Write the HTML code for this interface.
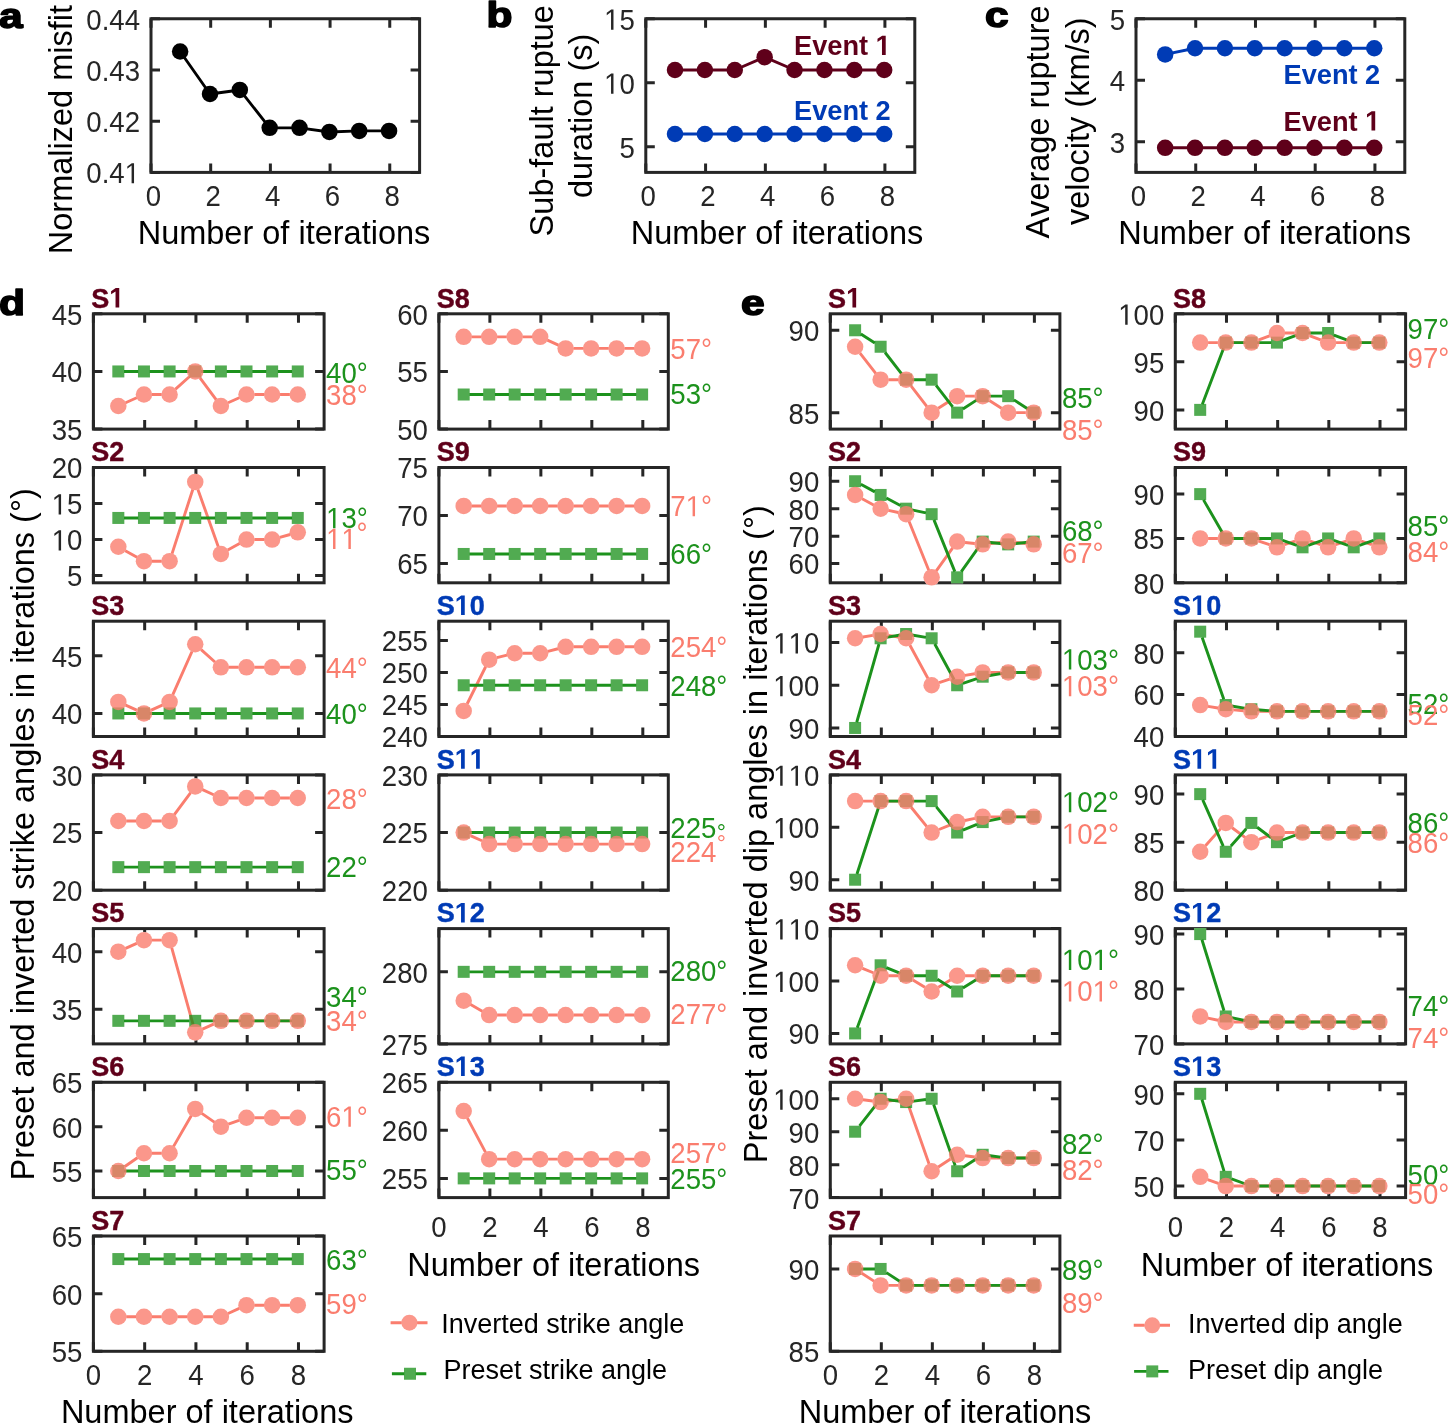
<!DOCTYPE html>
<html><head><meta charset="utf-8"><style>
html,body{margin:0;padding:0;background:#fff;overflow:hidden;}
svg text{font-family:"Liberation Sans",sans-serif;}
svg{display:block;will-change:transform;font-kerning:none;}
</style></head><body>
<svg width="1448" height="1423" viewBox="0 0 1448 1423" font-family="Liberation Sans, sans-serif">
<rect width="1448" height="1423" fill="#fff"/>
<text transform="translate(-1 27.6) scale(1.18 1)" font-size="36" font-weight="bold" fill="#000" stroke="#000" stroke-width="1.6" stroke-linejoin="round">a</text>
<text transform="translate(486.5 27.1) scale(1.18 1)" font-size="36" font-weight="bold" fill="#000" stroke="#000" stroke-width="1.6" stroke-linejoin="round">b</text>
<text transform="translate(985 27.3) scale(1.18 1)" font-size="36" font-weight="bold" fill="#000" stroke="#000" stroke-width="1.6" stroke-linejoin="round">c</text>
<text transform="translate(-1 314.6) scale(1.18 1)" font-size="36" font-weight="bold" fill="#000" stroke="#000" stroke-width="1.6" stroke-linejoin="round">d</text>
<text transform="translate(741 315.1) scale(1.18 1)" font-size="36" font-weight="bold" fill="#000" stroke="#000" stroke-width="1.6" stroke-linejoin="round">e</text>
<path d="M151 172.4V163.4M151 18.75V27.75M210.69 172.4V163.4M210.69 18.75V27.75M270.38 172.4V163.4M270.38 18.75V27.75M330.07 172.4V163.4M330.07 18.75V27.75M389.76 172.4V163.4M389.76 18.75V27.75M151 172.4H160M419.6 172.4H410.6M151 121.18H160M419.6 121.18H410.6M151 69.97H160M419.6 69.97H410.6M151 18.75H160M419.6 18.75H410.6" stroke="#262626" stroke-width="3.0" fill="none"/>
<rect x="151" y="18.75" width="268.6" height="153.65" fill="none" stroke="#262626" stroke-width="3.0"/>
<g transform="translate(140 183.3) scale(1 1.06)" fill="#262626"><text x="-53.72" y="0" font-size="27.6">0.4&#8199;</text><path transform="translate(-15.35 0) scale(0.01348 -0.01348)" d="M515 0L515 1237L197 1010L197 1180L530 1409L696 1409L696 0Z"/></g>
<g transform="translate(140 132.08) scale(1 1.06)" fill="#262626"><text x="-53.72" y="0" font-size="27.6">0.42</text></g>
<g transform="translate(140 80.87) scale(1 1.06)" fill="#262626"><text x="-53.72" y="0" font-size="27.6">0.43</text></g>
<g transform="translate(140 29.65) scale(1 1.06)" fill="#262626"><text x="-53.72" y="0" font-size="27.6">0.44</text></g>
<g transform="translate(153.4 206.2) scale(1 1.06)" fill="#262626"><text x="-7.67" y="0" font-size="27.6">0</text></g>
<g transform="translate(213.09 206.2) scale(1 1.06)" fill="#262626"><text x="-7.67" y="0" font-size="27.6">2</text></g>
<g transform="translate(272.78 206.2) scale(1 1.06)" fill="#262626"><text x="-7.67" y="0" font-size="27.6">4</text></g>
<g transform="translate(332.47 206.2) scale(1 1.06)" fill="#262626"><text x="-7.67" y="0" font-size="27.6">6</text></g>
<g transform="translate(392.16 206.2) scale(1 1.06)" fill="#262626"><text x="-7.67" y="0" font-size="27.6">8</text></g>
<polyline points="180.14,51.53 209.99,94.04 239.83,89.94 269.68,127.84 299.52,127.84 329.37,131.94 359.21,130.91 389.06,130.91" fill="none" stroke="#000" stroke-width="2.9" stroke-linejoin="round"/>
<circle cx="180.14" cy="51.53" r="8.25" fill="#000" fill-opacity="1"/>
<circle cx="209.99" cy="94.04" r="8.25" fill="#000" fill-opacity="1"/>
<circle cx="239.83" cy="89.94" r="8.25" fill="#000" fill-opacity="1"/>
<circle cx="269.68" cy="127.84" r="8.25" fill="#000" fill-opacity="1"/>
<circle cx="299.52" cy="127.84" r="8.25" fill="#000" fill-opacity="1"/>
<circle cx="329.37" cy="131.94" r="8.25" fill="#000" fill-opacity="1"/>
<circle cx="359.21" cy="130.91" r="8.25" fill="#000" fill-opacity="1"/>
<circle cx="389.06" cy="130.91" r="8.25" fill="#000" fill-opacity="1"/>
<text transform="translate(71.6 254.2) rotate(-90)" text-anchor="start" font-size="32.5" fill="#000">Normalized misfit</text>
<text x="284" y="244.2" text-anchor="middle" font-size="32.5" fill="#000">Number of iterations</text>
<path d="M645.8 172.4V163.4M645.8 18.75V27.75M705.58 172.4V163.4M705.58 18.75V27.75M765.36 172.4V163.4M765.36 18.75V27.75M825.13 172.4V163.4M825.13 18.75V27.75M884.91 172.4V163.4M884.91 18.75V27.75M645.8 146.79H654.8M914.8 146.79H905.8M645.8 82.77H654.8M914.8 82.77H905.8M645.8 18.75H654.8M914.8 18.75H905.8" stroke="#262626" stroke-width="3.0" fill="none"/>
<rect x="645.8" y="18.75" width="269" height="153.65" fill="none" stroke="#262626" stroke-width="3.0"/>
<g transform="translate(634.8 157.69) scale(1 1.06)" fill="#262626"><text x="-15.35" y="0" font-size="27.6">5</text></g>
<g transform="translate(634.8 93.67) scale(1 1.06)" fill="#262626"><text x="-30.7" y="0" font-size="27.6">&#8199;0</text><path transform="translate(-30.7 0) scale(0.01348 -0.01348)" d="M515 0L515 1237L197 1010L197 1180L530 1409L696 1409L696 0Z"/></g>
<g transform="translate(634.8 29.65) scale(1 1.06)" fill="#262626"><text x="-30.7" y="0" font-size="27.6">&#8199;5</text><path transform="translate(-30.7 0) scale(0.01348 -0.01348)" d="M515 0L515 1237L197 1010L197 1180L530 1409L696 1409L696 0Z"/></g>
<g transform="translate(648.2 206.2) scale(1 1.06)" fill="#262626"><text x="-7.67" y="0" font-size="27.6">0</text></g>
<g transform="translate(707.98 206.2) scale(1 1.06)" fill="#262626"><text x="-7.67" y="0" font-size="27.6">2</text></g>
<g transform="translate(767.76 206.2) scale(1 1.06)" fill="#262626"><text x="-7.67" y="0" font-size="27.6">4</text></g>
<g transform="translate(827.53 206.2) scale(1 1.06)" fill="#262626"><text x="-7.67" y="0" font-size="27.6">6</text></g>
<g transform="translate(887.31 206.2) scale(1 1.06)" fill="#262626"><text x="-7.67" y="0" font-size="27.6">8</text></g>
<polyline points="674.99,69.97 704.88,69.97 734.77,69.97 764.66,57.16 794.54,69.97 824.43,69.97 854.32,69.97 884.21,69.97" fill="none" stroke="#5F001A" stroke-width="2.9" stroke-linejoin="round"/>
<circle cx="674.99" cy="69.97" r="8.25" fill="#5F001A" fill-opacity="1"/>
<circle cx="704.88" cy="69.97" r="8.25" fill="#5F001A" fill-opacity="1"/>
<circle cx="734.77" cy="69.97" r="8.25" fill="#5F001A" fill-opacity="1"/>
<circle cx="764.66" cy="57.16" r="8.25" fill="#5F001A" fill-opacity="1"/>
<circle cx="794.54" cy="69.97" r="8.25" fill="#5F001A" fill-opacity="1"/>
<circle cx="824.43" cy="69.97" r="8.25" fill="#5F001A" fill-opacity="1"/>
<circle cx="854.32" cy="69.97" r="8.25" fill="#5F001A" fill-opacity="1"/>
<circle cx="884.21" cy="69.97" r="8.25" fill="#5F001A" fill-opacity="1"/>
<polyline points="674.99,133.99 704.88,133.99 734.77,133.99 764.66,133.99 794.54,133.99 824.43,133.99 854.32,133.99 884.21,133.99" fill="none" stroke="#003BB5" stroke-width="2.9" stroke-linejoin="round"/>
<circle cx="674.99" cy="133.99" r="8.25" fill="#003BB5" fill-opacity="1"/>
<circle cx="704.88" cy="133.99" r="8.25" fill="#003BB5" fill-opacity="1"/>
<circle cx="734.77" cy="133.99" r="8.25" fill="#003BB5" fill-opacity="1"/>
<circle cx="764.66" cy="133.99" r="8.25" fill="#003BB5" fill-opacity="1"/>
<circle cx="794.54" cy="133.99" r="8.25" fill="#003BB5" fill-opacity="1"/>
<circle cx="824.43" cy="133.99" r="8.25" fill="#003BB5" fill-opacity="1"/>
<circle cx="854.32" cy="133.99" r="8.25" fill="#003BB5" fill-opacity="1"/>
<circle cx="884.21" cy="133.99" r="8.25" fill="#003BB5" fill-opacity="1"/>
<g transform="translate(794 55) scale(1 1.03)" fill="#5F001A"><text x="0" y="0" font-size="27.2" font-weight="bold">Event &#8199;</text><path transform="translate(81.63 0) scale(0.01328 -0.01328)" d="M478 0L478 1170L140 959L140 1180L493 1409L759 1409L759 0Z"/></g>
<g transform="translate(794 119.8) scale(1 1.03)" fill="#003BB5"><text x="0" y="0" font-size="27.2" font-weight="bold">Event 2</text></g>
<text transform="translate(552.9 120.75) rotate(-90)" text-anchor="middle" font-size="32.5" fill="#000">Sub-fault ruptue</text>
<text transform="translate(591.5 115.9) rotate(-90)" text-anchor="middle" font-size="32.5" fill="#000">duration (s)</text>
<text x="777" y="244.2" text-anchor="middle" font-size="32.5" fill="#000">Number of iterations</text>
<path d="M1136 172.4V163.4M1136 18.75V27.75M1195.73 172.4V163.4M1195.73 18.75V27.75M1255.47 172.4V163.4M1255.47 18.75V27.75M1315.2 172.4V163.4M1315.2 18.75V27.75M1374.93 172.4V163.4M1374.93 18.75V27.75M1136 141.67H1145M1404.8 141.67H1395.8M1136 80.21H1145M1404.8 80.21H1395.8M1136 18.75H1145M1404.8 18.75H1395.8" stroke="#262626" stroke-width="3.0" fill="none"/>
<rect x="1136" y="18.75" width="268.8" height="153.65" fill="none" stroke="#262626" stroke-width="3.0"/>
<g transform="translate(1125 152.57) scale(1 1.06)" fill="#262626"><text x="-15.35" y="0" font-size="27.6">3</text></g>
<g transform="translate(1125 91.11) scale(1 1.06)" fill="#262626"><text x="-15.35" y="0" font-size="27.6">4</text></g>
<g transform="translate(1125 29.65) scale(1 1.06)" fill="#262626"><text x="-15.35" y="0" font-size="27.6">5</text></g>
<g transform="translate(1138.4 206.2) scale(1 1.06)" fill="#262626"><text x="-7.67" y="0" font-size="27.6">0</text></g>
<g transform="translate(1198.13 206.2) scale(1 1.06)" fill="#262626"><text x="-7.67" y="0" font-size="27.6">2</text></g>
<g transform="translate(1257.87 206.2) scale(1 1.06)" fill="#262626"><text x="-7.67" y="0" font-size="27.6">4</text></g>
<g transform="translate(1317.6 206.2) scale(1 1.06)" fill="#262626"><text x="-7.67" y="0" font-size="27.6">6</text></g>
<g transform="translate(1377.33 206.2) scale(1 1.06)" fill="#262626"><text x="-7.67" y="0" font-size="27.6">8</text></g>
<polyline points="1165.17,147.82 1195.03,147.82 1224.9,147.82 1254.77,147.82 1284.63,147.82 1314.5,147.82 1344.37,147.82 1374.23,147.82" fill="none" stroke="#5F001A" stroke-width="2.9" stroke-linejoin="round"/>
<circle cx="1165.17" cy="147.82" r="8.25" fill="#5F001A" fill-opacity="1"/>
<circle cx="1195.03" cy="147.82" r="8.25" fill="#5F001A" fill-opacity="1"/>
<circle cx="1224.9" cy="147.82" r="8.25" fill="#5F001A" fill-opacity="1"/>
<circle cx="1254.77" cy="147.82" r="8.25" fill="#5F001A" fill-opacity="1"/>
<circle cx="1284.63" cy="147.82" r="8.25" fill="#5F001A" fill-opacity="1"/>
<circle cx="1314.5" cy="147.82" r="8.25" fill="#5F001A" fill-opacity="1"/>
<circle cx="1344.37" cy="147.82" r="8.25" fill="#5F001A" fill-opacity="1"/>
<circle cx="1374.23" cy="147.82" r="8.25" fill="#5F001A" fill-opacity="1"/>
<polyline points="1165.17,54.4 1195.03,48.25 1224.9,48.25 1254.77,48.25 1284.63,48.25 1314.5,48.25 1344.37,48.25 1374.23,48.25" fill="none" stroke="#003BB5" stroke-width="2.9" stroke-linejoin="round"/>
<circle cx="1165.17" cy="54.4" r="8.25" fill="#003BB5" fill-opacity="1"/>
<circle cx="1195.03" cy="48.25" r="8.25" fill="#003BB5" fill-opacity="1"/>
<circle cx="1224.9" cy="48.25" r="8.25" fill="#003BB5" fill-opacity="1"/>
<circle cx="1254.77" cy="48.25" r="8.25" fill="#003BB5" fill-opacity="1"/>
<circle cx="1284.63" cy="48.25" r="8.25" fill="#003BB5" fill-opacity="1"/>
<circle cx="1314.5" cy="48.25" r="8.25" fill="#003BB5" fill-opacity="1"/>
<circle cx="1344.37" cy="48.25" r="8.25" fill="#003BB5" fill-opacity="1"/>
<circle cx="1374.23" cy="48.25" r="8.25" fill="#003BB5" fill-opacity="1"/>
<g transform="translate(1283.5 84.3) scale(1 1.03)" fill="#003BB5"><text x="0" y="0" font-size="27.2" font-weight="bold">Event 2</text></g>
<g transform="translate(1283.5 130.5) scale(1 1.03)" fill="#5F001A"><text x="0" y="0" font-size="27.2" font-weight="bold">Event &#8199;</text><path transform="translate(81.63 0) scale(0.01328 -0.01328)" d="M478 0L478 1170L140 959L140 1180L493 1409L759 1409L759 0Z"/></g>
<text transform="translate(1049.4 122) rotate(-90)" text-anchor="middle" font-size="32.5" fill="#000">Average rupture</text>
<text transform="translate(1088.9 121.2) rotate(-90)" text-anchor="middle" font-size="32.5" fill="#000">velocity (km/s)</text>
<text x="1264.6" y="244.2" text-anchor="middle" font-size="32.5" fill="#000">Number of iterations</text>
<path d="M93.4 429.1V420.1M93.4 313.8V322.8M144.67 429.1V420.1M144.67 313.8V322.8M195.93 429.1V420.1M195.93 313.8V322.8M247.2 429.1V420.1M247.2 313.8V322.8M298.47 429.1V420.1M298.47 313.8V322.8M93.4 429.1H102.4M324.1 429.1H315.1M93.4 371.45H102.4M324.1 371.45H315.1M93.4 313.8H102.4M324.1 313.8H315.1" stroke="#262626" stroke-width="3.0" fill="none"/>
<rect x="93.4" y="313.8" width="230.7" height="115.3" fill="none" stroke="#262626" stroke-width="3.0"/>
<g transform="translate(82.4 440) scale(1 1.06)" fill="#262626"><text x="-30.7" y="0" font-size="27.6">35</text></g>
<g transform="translate(82.4 382.35) scale(1 1.06)" fill="#262626"><text x="-30.7" y="0" font-size="27.6">40</text></g>
<g transform="translate(82.4 324.7) scale(1 1.06)" fill="#262626"><text x="-30.7" y="0" font-size="27.6">45</text></g>
<rect x="112.33" y="365.45" width="12" height="12" fill="#fff"/>
<rect x="137.97" y="365.45" width="12" height="12" fill="#fff"/>
<rect x="163.6" y="365.45" width="12" height="12" fill="#fff"/>
<rect x="189.23" y="365.45" width="12" height="12" fill="#fff"/>
<rect x="214.87" y="365.45" width="12" height="12" fill="#fff"/>
<rect x="240.5" y="365.45" width="12" height="12" fill="#fff"/>
<rect x="266.13" y="365.45" width="12" height="12" fill="#fff"/>
<rect x="291.77" y="365.45" width="12" height="12" fill="#fff"/>
<circle cx="118.33" cy="406.04" r="8.25" fill="#fff"/>
<circle cx="143.97" cy="394.51" r="8.25" fill="#fff"/>
<circle cx="169.6" cy="394.51" r="8.25" fill="#fff"/>
<circle cx="195.23" cy="371.45" r="8.25" fill="#fff"/>
<circle cx="220.87" cy="406.04" r="8.25" fill="#fff"/>
<circle cx="246.5" cy="394.51" r="8.25" fill="#fff"/>
<circle cx="272.13" cy="394.51" r="8.25" fill="#fff"/>
<circle cx="297.77" cy="394.51" r="8.25" fill="#fff"/>
<path d="M125.58 402.78L136.72 397.77M151.92 394.51L161.65 394.51M175.51 389.19L189.32 376.77M199.97 377.84L216.13 399.65M228.12 402.78L239.25 397.77M254.45 394.51L264.18 394.51M280.08 394.51L289.82 394.51" fill="none" stroke="#FA7D6E" stroke-width="2.9"/>
<path d="M124.03 371.45L138.27 371.45M149.67 371.45L163.9 371.45M175.3 371.45L189.53 371.45M200.93 371.45L215.17 371.45M226.57 371.45L240.8 371.45M252.2 371.45L266.43 371.45M277.83 371.45L292.07 371.45" fill="none" stroke="#1C921C" stroke-width="2.9"/>
<rect x="112.33" y="365.45" width="12" height="12" fill="#178F17" fill-opacity="0.75"/>
<rect x="137.97" y="365.45" width="12" height="12" fill="#178F17" fill-opacity="0.75"/>
<rect x="163.6" y="365.45" width="12" height="12" fill="#178F17" fill-opacity="0.75"/>
<rect x="189.23" y="365.45" width="12" height="12" fill="#178F17" fill-opacity="0.75"/>
<rect x="214.87" y="365.45" width="12" height="12" fill="#178F17" fill-opacity="0.75"/>
<rect x="240.5" y="365.45" width="12" height="12" fill="#178F17" fill-opacity="0.75"/>
<rect x="266.13" y="365.45" width="12" height="12" fill="#178F17" fill-opacity="0.75"/>
<rect x="291.77" y="365.45" width="12" height="12" fill="#178F17" fill-opacity="0.75"/>
<circle cx="118.33" cy="406.04" r="8.25" fill="#FA7D6E" fill-opacity="0.8"/>
<circle cx="143.97" cy="394.51" r="8.25" fill="#FA7D6E" fill-opacity="0.8"/>
<circle cx="169.6" cy="394.51" r="8.25" fill="#FA7D6E" fill-opacity="0.8"/>
<circle cx="195.23" cy="371.45" r="8.25" fill="#FA7D6E" fill-opacity="0.8"/>
<circle cx="220.87" cy="406.04" r="8.25" fill="#FA7D6E" fill-opacity="0.8"/>
<circle cx="246.5" cy="394.51" r="8.25" fill="#FA7D6E" fill-opacity="0.8"/>
<circle cx="272.13" cy="394.51" r="8.25" fill="#FA7D6E" fill-opacity="0.8"/>
<circle cx="297.77" cy="394.51" r="8.25" fill="#FA7D6E" fill-opacity="0.8"/>
<g transform="translate(91.2 307.6) scale(1.02 1.07)" fill="#5F001A" stroke="#5F001A" stroke-width="0.4" stroke-linejoin="round"><text x="0" y="0" font-size="26.5" font-weight="bold">S&#8199;</text><path transform="translate(17.68 0) scale(0.01294 -0.01294)" d="M478 0L478 1170L140 959L140 1180L493 1409L759 1409L759 0Z"/></g>
<g transform="translate(326.1 382.5) scale(1 1.06)" fill="#1C921C"><text x="0" y="0" font-size="27.6">40&#176;</text></g>
<g transform="translate(326.1 404.6) scale(1 1.06)" fill="#FA7D6E"><text x="0" y="0" font-size="27.6">38&#176;</text></g>
<path d="M93.4 582.8V573.8M93.4 467.5V476.5M144.67 582.8V573.8M144.67 467.5V476.5M195.93 582.8V573.8M195.93 467.5V476.5M247.2 582.8V573.8M247.2 467.5V476.5M298.47 582.8V573.8M298.47 467.5V476.5M93.4 575.59H102.4M324.1 575.59H315.1M93.4 539.56H102.4M324.1 539.56H315.1M93.4 503.53H102.4M324.1 503.53H315.1M93.4 467.5H102.4M324.1 467.5H315.1" stroke="#262626" stroke-width="3.0" fill="none"/>
<rect x="93.4" y="467.5" width="230.7" height="115.3" fill="none" stroke="#262626" stroke-width="3.0"/>
<g transform="translate(82.4 586.49) scale(1 1.06)" fill="#262626"><text x="-15.35" y="0" font-size="27.6">5</text></g>
<g transform="translate(82.4 550.46) scale(1 1.06)" fill="#262626"><text x="-30.7" y="0" font-size="27.6">&#8199;0</text><path transform="translate(-30.7 0) scale(0.01348 -0.01348)" d="M515 0L515 1237L197 1010L197 1180L530 1409L696 1409L696 0Z"/></g>
<g transform="translate(82.4 514.43) scale(1 1.06)" fill="#262626"><text x="-30.7" y="0" font-size="27.6">&#8199;5</text><path transform="translate(-30.7 0) scale(0.01348 -0.01348)" d="M515 0L515 1237L197 1010L197 1180L530 1409L696 1409L696 0Z"/></g>
<g transform="translate(82.4 478.4) scale(1 1.06)" fill="#262626"><text x="-30.7" y="0" font-size="27.6">20</text></g>
<rect x="112.33" y="511.94" width="12" height="12" fill="#fff"/>
<rect x="137.97" y="511.94" width="12" height="12" fill="#fff"/>
<rect x="163.6" y="511.94" width="12" height="12" fill="#fff"/>
<rect x="189.23" y="511.94" width="12" height="12" fill="#fff"/>
<rect x="214.87" y="511.94" width="12" height="12" fill="#fff"/>
<rect x="240.5" y="511.94" width="12" height="12" fill="#fff"/>
<rect x="266.13" y="511.94" width="12" height="12" fill="#fff"/>
<rect x="291.77" y="511.94" width="12" height="12" fill="#fff"/>
<circle cx="118.33" cy="546.77" r="8.25" fill="#fff"/>
<circle cx="143.97" cy="561.18" r="8.25" fill="#fff"/>
<circle cx="169.6" cy="561.18" r="8.25" fill="#fff"/>
<circle cx="195.23" cy="481.91" r="8.25" fill="#fff"/>
<circle cx="220.87" cy="553.97" r="8.25" fill="#fff"/>
<circle cx="246.5" cy="539.56" r="8.25" fill="#fff"/>
<circle cx="272.13" cy="539.56" r="8.25" fill="#fff"/>
<circle cx="297.77" cy="532.36" r="8.25" fill="#fff"/>
<path d="M125.26 550.67L137.04 557.28M151.92 561.18L161.65 561.18M172.05 553.62L192.79 489.48M197.9 489.4L218.2 546.48M227.8 550.08L239.57 543.46M254.45 539.56L264.18 539.56M279.79 537.41L290.11 534.51" fill="none" stroke="#FA7D6E" stroke-width="2.9"/>
<path d="M124.03 517.94L138.27 517.94M149.67 517.94L163.9 517.94M175.3 517.94L189.53 517.94M200.93 517.94L215.17 517.94M226.57 517.94L240.8 517.94M252.2 517.94L266.43 517.94M277.83 517.94L292.07 517.94" fill="none" stroke="#1C921C" stroke-width="2.9"/>
<rect x="112.33" y="511.94" width="12" height="12" fill="#178F17" fill-opacity="0.75"/>
<rect x="137.97" y="511.94" width="12" height="12" fill="#178F17" fill-opacity="0.75"/>
<rect x="163.6" y="511.94" width="12" height="12" fill="#178F17" fill-opacity="0.75"/>
<rect x="189.23" y="511.94" width="12" height="12" fill="#178F17" fill-opacity="0.75"/>
<rect x="214.87" y="511.94" width="12" height="12" fill="#178F17" fill-opacity="0.75"/>
<rect x="240.5" y="511.94" width="12" height="12" fill="#178F17" fill-opacity="0.75"/>
<rect x="266.13" y="511.94" width="12" height="12" fill="#178F17" fill-opacity="0.75"/>
<rect x="291.77" y="511.94" width="12" height="12" fill="#178F17" fill-opacity="0.75"/>
<circle cx="118.33" cy="546.77" r="8.25" fill="#FA7D6E" fill-opacity="0.8"/>
<circle cx="143.97" cy="561.18" r="8.25" fill="#FA7D6E" fill-opacity="0.8"/>
<circle cx="169.6" cy="561.18" r="8.25" fill="#FA7D6E" fill-opacity="0.8"/>
<circle cx="195.23" cy="481.91" r="8.25" fill="#FA7D6E" fill-opacity="0.8"/>
<circle cx="220.87" cy="553.97" r="8.25" fill="#FA7D6E" fill-opacity="0.8"/>
<circle cx="246.5" cy="539.56" r="8.25" fill="#FA7D6E" fill-opacity="0.8"/>
<circle cx="272.13" cy="539.56" r="8.25" fill="#FA7D6E" fill-opacity="0.8"/>
<circle cx="297.77" cy="532.36" r="8.25" fill="#FA7D6E" fill-opacity="0.8"/>
<g transform="translate(91.2 461.3) scale(1.02 1.07)" fill="#5F001A" stroke="#5F001A" stroke-width="0.4" stroke-linejoin="round"><text x="0" y="0" font-size="26.5" font-weight="bold">S2</text></g>
<g transform="translate(326.1 528.2) scale(1 1.06)" fill="#1C921C"><text x="0" y="0" font-size="27.6">&#8199;3&#176;</text><path transform="translate(0 0) scale(0.01348 -0.01348)" d="M515 0L515 1237L197 1010L197 1180L530 1409L696 1409L696 0Z"/></g>
<g transform="translate(326.1 549) scale(1 1.06)" fill="#FA7D6E"><text x="0" y="0" font-size="27.6">&#8199;&#8199;</text><path transform="translate(0 0) scale(0.01348 -0.01348)" d="M515 0L515 1237L197 1010L197 1180L530 1409L696 1409L696 0Z"/><path transform="translate(15.35 0) scale(0.01348 -0.01348)" d="M515 0L515 1237L197 1010L197 1180L530 1409L696 1409L696 0Z"/></g>
<path d="M93.4 736.5V727.5M93.4 621.2V630.2M144.67 736.5V727.5M144.67 621.2V630.2M195.93 736.5V727.5M195.93 621.2V630.2M247.2 736.5V727.5M247.2 621.2V630.2M298.47 736.5V727.5M298.47 621.2V630.2M93.4 713.44H102.4M324.1 713.44H315.1M93.4 655.79H102.4M324.1 655.79H315.1" stroke="#262626" stroke-width="3.0" fill="none"/>
<rect x="93.4" y="621.2" width="230.7" height="115.3" fill="none" stroke="#262626" stroke-width="3.0"/>
<g transform="translate(82.4 724.34) scale(1 1.06)" fill="#262626"><text x="-30.7" y="0" font-size="27.6">40</text></g>
<g transform="translate(82.4 666.69) scale(1 1.06)" fill="#262626"><text x="-30.7" y="0" font-size="27.6">45</text></g>
<rect x="112.33" y="707.44" width="12" height="12" fill="#fff"/>
<rect x="137.97" y="707.44" width="12" height="12" fill="#fff"/>
<rect x="163.6" y="707.44" width="12" height="12" fill="#fff"/>
<rect x="189.23" y="707.44" width="12" height="12" fill="#fff"/>
<rect x="214.87" y="707.44" width="12" height="12" fill="#fff"/>
<rect x="240.5" y="707.44" width="12" height="12" fill="#fff"/>
<rect x="266.13" y="707.44" width="12" height="12" fill="#fff"/>
<rect x="291.77" y="707.44" width="12" height="12" fill="#fff"/>
<circle cx="118.33" cy="701.91" r="8.25" fill="#fff"/>
<circle cx="143.97" cy="713.44" r="8.25" fill="#fff"/>
<circle cx="169.6" cy="701.91" r="8.25" fill="#fff"/>
<circle cx="195.23" cy="644.26" r="8.25" fill="#fff"/>
<circle cx="220.87" cy="667.32" r="8.25" fill="#fff"/>
<circle cx="246.5" cy="667.32" r="8.25" fill="#fff"/>
<circle cx="272.13" cy="667.32" r="8.25" fill="#fff"/>
<circle cx="297.77" cy="667.32" r="8.25" fill="#fff"/>
<path d="M125.58 705.17L136.72 710.18M151.22 710.18L162.35 705.17M172.83 694.65L192 651.52M201.14 649.58L214.96 662M228.82 667.32L238.55 667.32M254.45 667.32L264.18 667.32M280.08 667.32L289.82 667.32" fill="none" stroke="#FA7D6E" stroke-width="2.9"/>
<path d="M124.03 713.44L138.27 713.44M149.67 713.44L163.9 713.44M175.3 713.44L189.53 713.44M200.93 713.44L215.17 713.44M226.57 713.44L240.8 713.44M252.2 713.44L266.43 713.44M277.83 713.44L292.07 713.44" fill="none" stroke="#1C921C" stroke-width="2.9"/>
<rect x="112.33" y="707.44" width="12" height="12" fill="#178F17" fill-opacity="0.75"/>
<rect x="137.97" y="707.44" width="12" height="12" fill="#178F17" fill-opacity="0.75"/>
<rect x="163.6" y="707.44" width="12" height="12" fill="#178F17" fill-opacity="0.75"/>
<rect x="189.23" y="707.44" width="12" height="12" fill="#178F17" fill-opacity="0.75"/>
<rect x="214.87" y="707.44" width="12" height="12" fill="#178F17" fill-opacity="0.75"/>
<rect x="240.5" y="707.44" width="12" height="12" fill="#178F17" fill-opacity="0.75"/>
<rect x="266.13" y="707.44" width="12" height="12" fill="#178F17" fill-opacity="0.75"/>
<rect x="291.77" y="707.44" width="12" height="12" fill="#178F17" fill-opacity="0.75"/>
<circle cx="118.33" cy="701.91" r="8.25" fill="#FA7D6E" fill-opacity="0.8"/>
<circle cx="143.97" cy="713.44" r="8.25" fill="#FA7D6E" fill-opacity="0.8"/>
<circle cx="169.6" cy="701.91" r="8.25" fill="#FA7D6E" fill-opacity="0.8"/>
<circle cx="195.23" cy="644.26" r="8.25" fill="#FA7D6E" fill-opacity="0.8"/>
<circle cx="220.87" cy="667.32" r="8.25" fill="#FA7D6E" fill-opacity="0.8"/>
<circle cx="246.5" cy="667.32" r="8.25" fill="#FA7D6E" fill-opacity="0.8"/>
<circle cx="272.13" cy="667.32" r="8.25" fill="#FA7D6E" fill-opacity="0.8"/>
<circle cx="297.77" cy="667.32" r="8.25" fill="#FA7D6E" fill-opacity="0.8"/>
<g transform="translate(91.2 615) scale(1.02 1.07)" fill="#5F001A" stroke="#5F001A" stroke-width="0.4" stroke-linejoin="round"><text x="0" y="0" font-size="26.5" font-weight="bold">S3</text></g>
<g transform="translate(326.1 724.4) scale(1 1.06)" fill="#1C921C"><text x="0" y="0" font-size="27.6">40&#176;</text></g>
<g transform="translate(326.1 678.1) scale(1 1.06)" fill="#FA7D6E"><text x="0" y="0" font-size="27.6">44&#176;</text></g>
<path d="M93.4 890.2V881.2M93.4 774.9V783.9M144.67 890.2V881.2M144.67 774.9V783.9M195.93 890.2V881.2M195.93 774.9V783.9M247.2 890.2V881.2M247.2 774.9V783.9M298.47 890.2V881.2M298.47 774.9V783.9M93.4 890.2H102.4M324.1 890.2H315.1M93.4 832.55H102.4M324.1 832.55H315.1M93.4 774.9H102.4M324.1 774.9H315.1" stroke="#262626" stroke-width="3.0" fill="none"/>
<rect x="93.4" y="774.9" width="230.7" height="115.3" fill="none" stroke="#262626" stroke-width="3.0"/>
<g transform="translate(82.4 901.1) scale(1 1.06)" fill="#262626"><text x="-30.7" y="0" font-size="27.6">20</text></g>
<g transform="translate(82.4 843.45) scale(1 1.06)" fill="#262626"><text x="-30.7" y="0" font-size="27.6">25</text></g>
<g transform="translate(82.4 785.8) scale(1 1.06)" fill="#262626"><text x="-30.7" y="0" font-size="27.6">30</text></g>
<rect x="112.33" y="861.14" width="12" height="12" fill="#fff"/>
<rect x="137.97" y="861.14" width="12" height="12" fill="#fff"/>
<rect x="163.6" y="861.14" width="12" height="12" fill="#fff"/>
<rect x="189.23" y="861.14" width="12" height="12" fill="#fff"/>
<rect x="214.87" y="861.14" width="12" height="12" fill="#fff"/>
<rect x="240.5" y="861.14" width="12" height="12" fill="#fff"/>
<rect x="266.13" y="861.14" width="12" height="12" fill="#fff"/>
<rect x="291.77" y="861.14" width="12" height="12" fill="#fff"/>
<circle cx="118.33" cy="821.02" r="8.25" fill="#fff"/>
<circle cx="143.97" cy="821.02" r="8.25" fill="#fff"/>
<circle cx="169.6" cy="821.02" r="8.25" fill="#fff"/>
<circle cx="195.23" cy="786.43" r="8.25" fill="#fff"/>
<circle cx="220.87" cy="797.96" r="8.25" fill="#fff"/>
<circle cx="246.5" cy="797.96" r="8.25" fill="#fff"/>
<circle cx="272.13" cy="797.96" r="8.25" fill="#fff"/>
<circle cx="297.77" cy="797.96" r="8.25" fill="#fff"/>
<path d="M126.28 821.02L136.02 821.02M151.92 821.02L161.65 821.02M174.33 814.63L190.5 792.82M202.48 789.69L213.62 794.7M228.82 797.96L238.55 797.96M254.45 797.96L264.18 797.96M280.08 797.96L289.82 797.96" fill="none" stroke="#FA7D6E" stroke-width="2.9"/>
<path d="M124.03 867.14L138.27 867.14M149.67 867.14L163.9 867.14M175.3 867.14L189.53 867.14M200.93 867.14L215.17 867.14M226.57 867.14L240.8 867.14M252.2 867.14L266.43 867.14M277.83 867.14L292.07 867.14" fill="none" stroke="#1C921C" stroke-width="2.9"/>
<rect x="112.33" y="861.14" width="12" height="12" fill="#178F17" fill-opacity="0.75"/>
<rect x="137.97" y="861.14" width="12" height="12" fill="#178F17" fill-opacity="0.75"/>
<rect x="163.6" y="861.14" width="12" height="12" fill="#178F17" fill-opacity="0.75"/>
<rect x="189.23" y="861.14" width="12" height="12" fill="#178F17" fill-opacity="0.75"/>
<rect x="214.87" y="861.14" width="12" height="12" fill="#178F17" fill-opacity="0.75"/>
<rect x="240.5" y="861.14" width="12" height="12" fill="#178F17" fill-opacity="0.75"/>
<rect x="266.13" y="861.14" width="12" height="12" fill="#178F17" fill-opacity="0.75"/>
<rect x="291.77" y="861.14" width="12" height="12" fill="#178F17" fill-opacity="0.75"/>
<circle cx="118.33" cy="821.02" r="8.25" fill="#FA7D6E" fill-opacity="0.8"/>
<circle cx="143.97" cy="821.02" r="8.25" fill="#FA7D6E" fill-opacity="0.8"/>
<circle cx="169.6" cy="821.02" r="8.25" fill="#FA7D6E" fill-opacity="0.8"/>
<circle cx="195.23" cy="786.43" r="8.25" fill="#FA7D6E" fill-opacity="0.8"/>
<circle cx="220.87" cy="797.96" r="8.25" fill="#FA7D6E" fill-opacity="0.8"/>
<circle cx="246.5" cy="797.96" r="8.25" fill="#FA7D6E" fill-opacity="0.8"/>
<circle cx="272.13" cy="797.96" r="8.25" fill="#FA7D6E" fill-opacity="0.8"/>
<circle cx="297.77" cy="797.96" r="8.25" fill="#FA7D6E" fill-opacity="0.8"/>
<g transform="translate(91.2 768.7) scale(1.02 1.07)" fill="#5F001A" stroke="#5F001A" stroke-width="0.4" stroke-linejoin="round"><text x="0" y="0" font-size="26.5" font-weight="bold">S4</text></g>
<g transform="translate(326.1 877.3) scale(1 1.06)" fill="#1C921C"><text x="0" y="0" font-size="27.6">22&#176;</text></g>
<g transform="translate(326.1 808.8) scale(1 1.06)" fill="#FA7D6E"><text x="0" y="0" font-size="27.6">28&#176;</text></g>
<path d="M93.4 1043.9V1034.9M93.4 928.6V937.6M144.67 1043.9V1034.9M144.67 928.6V937.6M195.93 1043.9V1034.9M195.93 928.6V937.6M247.2 1043.9V1034.9M247.2 928.6V937.6M298.47 1043.9V1034.9M298.47 928.6V937.6M93.4 1009.31H102.4M324.1 1009.31H315.1M93.4 951.66H102.4M324.1 951.66H315.1" stroke="#262626" stroke-width="3.0" fill="none"/>
<rect x="93.4" y="928.6" width="230.7" height="115.3" fill="none" stroke="#262626" stroke-width="3.0"/>
<g transform="translate(82.4 1020.21) scale(1 1.06)" fill="#262626"><text x="-30.7" y="0" font-size="27.6">35</text></g>
<g transform="translate(82.4 962.56) scale(1 1.06)" fill="#262626"><text x="-30.7" y="0" font-size="27.6">40</text></g>
<rect x="112.33" y="1014.84" width="12" height="12" fill="#fff"/>
<rect x="137.97" y="1014.84" width="12" height="12" fill="#fff"/>
<rect x="163.6" y="1014.84" width="12" height="12" fill="#fff"/>
<rect x="189.23" y="1014.84" width="12" height="12" fill="#fff"/>
<rect x="214.87" y="1014.84" width="12" height="12" fill="#fff"/>
<rect x="240.5" y="1014.84" width="12" height="12" fill="#fff"/>
<rect x="266.13" y="1014.84" width="12" height="12" fill="#fff"/>
<rect x="291.77" y="1014.84" width="12" height="12" fill="#fff"/>
<circle cx="118.33" cy="951.66" r="8.25" fill="#fff"/>
<circle cx="143.97" cy="940.13" r="8.25" fill="#fff"/>
<circle cx="169.6" cy="940.13" r="8.25" fill="#fff"/>
<circle cx="195.23" cy="1032.37" r="8.25" fill="#fff"/>
<circle cx="220.87" cy="1020.84" r="8.25" fill="#fff"/>
<circle cx="246.5" cy="1020.84" r="8.25" fill="#fff"/>
<circle cx="272.13" cy="1020.84" r="8.25" fill="#fff"/>
<circle cx="297.77" cy="1020.84" r="8.25" fill="#fff"/>
<path d="M125.58 948.4L136.72 943.39M151.92 940.13L161.65 940.13M171.73 947.79L193.1 1024.71M202.48 1029.11L213.62 1024.1M228.82 1020.84L238.55 1020.84M254.45 1020.84L264.18 1020.84M280.08 1020.84L289.82 1020.84" fill="none" stroke="#FA7D6E" stroke-width="2.9"/>
<path d="M124.03 1020.84L138.27 1020.84M149.67 1020.84L163.9 1020.84M175.3 1020.84L189.53 1020.84M200.93 1020.84L215.17 1020.84M226.57 1020.84L240.8 1020.84M252.2 1020.84L266.43 1020.84M277.83 1020.84L292.07 1020.84" fill="none" stroke="#1C921C" stroke-width="2.9"/>
<rect x="112.33" y="1014.84" width="12" height="12" fill="#178F17" fill-opacity="0.75"/>
<rect x="137.97" y="1014.84" width="12" height="12" fill="#178F17" fill-opacity="0.75"/>
<rect x="163.6" y="1014.84" width="12" height="12" fill="#178F17" fill-opacity="0.75"/>
<rect x="189.23" y="1014.84" width="12" height="12" fill="#178F17" fill-opacity="0.75"/>
<rect x="214.87" y="1014.84" width="12" height="12" fill="#178F17" fill-opacity="0.75"/>
<rect x="240.5" y="1014.84" width="12" height="12" fill="#178F17" fill-opacity="0.75"/>
<rect x="266.13" y="1014.84" width="12" height="12" fill="#178F17" fill-opacity="0.75"/>
<rect x="291.77" y="1014.84" width="12" height="12" fill="#178F17" fill-opacity="0.75"/>
<circle cx="118.33" cy="951.66" r="8.25" fill="#FA7D6E" fill-opacity="0.8"/>
<circle cx="143.97" cy="940.13" r="8.25" fill="#FA7D6E" fill-opacity="0.8"/>
<circle cx="169.6" cy="940.13" r="8.25" fill="#FA7D6E" fill-opacity="0.8"/>
<circle cx="195.23" cy="1032.37" r="8.25" fill="#FA7D6E" fill-opacity="0.8"/>
<circle cx="220.87" cy="1020.84" r="8.25" fill="#FA7D6E" fill-opacity="0.8"/>
<circle cx="246.5" cy="1020.84" r="8.25" fill="#FA7D6E" fill-opacity="0.8"/>
<circle cx="272.13" cy="1020.84" r="8.25" fill="#FA7D6E" fill-opacity="0.8"/>
<circle cx="297.77" cy="1020.84" r="8.25" fill="#FA7D6E" fill-opacity="0.8"/>
<g transform="translate(91.2 922.4) scale(1.02 1.07)" fill="#5F001A" stroke="#5F001A" stroke-width="0.4" stroke-linejoin="round"><text x="0" y="0" font-size="26.5" font-weight="bold">S5</text></g>
<g transform="translate(326.1 1007.2) scale(1 1.06)" fill="#1C921C"><text x="0" y="0" font-size="27.6">34&#176;</text></g>
<g transform="translate(326.1 1030.6) scale(1 1.06)" fill="#FA7D6E"><text x="0" y="0" font-size="27.6">34&#176;</text></g>
<path d="M93.4 1197.6V1188.6M93.4 1082.3V1091.3M144.67 1197.6V1188.6M144.67 1082.3V1091.3M195.93 1197.6V1188.6M195.93 1082.3V1091.3M247.2 1197.6V1188.6M247.2 1082.3V1091.3M298.47 1197.6V1188.6M298.47 1082.3V1091.3M93.4 1170.99H102.4M324.1 1170.99H315.1M93.4 1126.65H102.4M324.1 1126.65H315.1M93.4 1082.3H102.4M324.1 1082.3H315.1" stroke="#262626" stroke-width="3.0" fill="none"/>
<rect x="93.4" y="1082.3" width="230.7" height="115.3" fill="none" stroke="#262626" stroke-width="3.0"/>
<g transform="translate(82.4 1181.89) scale(1 1.06)" fill="#262626"><text x="-30.7" y="0" font-size="27.6">55</text></g>
<g transform="translate(82.4 1137.55) scale(1 1.06)" fill="#262626"><text x="-30.7" y="0" font-size="27.6">60</text></g>
<g transform="translate(82.4 1093.2) scale(1 1.06)" fill="#262626"><text x="-30.7" y="0" font-size="27.6">65</text></g>
<rect x="112.33" y="1164.99" width="12" height="12" fill="#fff"/>
<rect x="137.97" y="1164.99" width="12" height="12" fill="#fff"/>
<rect x="163.6" y="1164.99" width="12" height="12" fill="#fff"/>
<rect x="189.23" y="1164.99" width="12" height="12" fill="#fff"/>
<rect x="214.87" y="1164.99" width="12" height="12" fill="#fff"/>
<rect x="240.5" y="1164.99" width="12" height="12" fill="#fff"/>
<rect x="266.13" y="1164.99" width="12" height="12" fill="#fff"/>
<rect x="291.77" y="1164.99" width="12" height="12" fill="#fff"/>
<circle cx="118.33" cy="1170.99" r="8.25" fill="#fff"/>
<circle cx="143.97" cy="1153.25" r="8.25" fill="#fff"/>
<circle cx="169.6" cy="1153.25" r="8.25" fill="#fff"/>
<circle cx="195.23" cy="1108.91" r="8.25" fill="#fff"/>
<circle cx="220.87" cy="1126.65" r="8.25" fill="#fff"/>
<circle cx="246.5" cy="1117.78" r="8.25" fill="#fff"/>
<circle cx="272.13" cy="1117.78" r="8.25" fill="#fff"/>
<circle cx="297.77" cy="1117.78" r="8.25" fill="#fff"/>
<path d="M124.87 1166.47L137.43 1157.78M151.92 1153.25L161.65 1153.25M173.58 1146.37L191.25 1115.79M201.77 1113.43L214.33 1122.12M228.38 1124.05L238.99 1120.38M254.45 1117.78L264.18 1117.78M280.08 1117.78L289.82 1117.78" fill="none" stroke="#FA7D6E" stroke-width="2.9"/>
<path d="M124.03 1170.99L138.27 1170.99M149.67 1170.99L163.9 1170.99M175.3 1170.99L189.53 1170.99M200.93 1170.99L215.17 1170.99M226.57 1170.99L240.8 1170.99M252.2 1170.99L266.43 1170.99M277.83 1170.99L292.07 1170.99" fill="none" stroke="#1C921C" stroke-width="2.9"/>
<rect x="112.33" y="1164.99" width="12" height="12" fill="#178F17" fill-opacity="0.75"/>
<rect x="137.97" y="1164.99" width="12" height="12" fill="#178F17" fill-opacity="0.75"/>
<rect x="163.6" y="1164.99" width="12" height="12" fill="#178F17" fill-opacity="0.75"/>
<rect x="189.23" y="1164.99" width="12" height="12" fill="#178F17" fill-opacity="0.75"/>
<rect x="214.87" y="1164.99" width="12" height="12" fill="#178F17" fill-opacity="0.75"/>
<rect x="240.5" y="1164.99" width="12" height="12" fill="#178F17" fill-opacity="0.75"/>
<rect x="266.13" y="1164.99" width="12" height="12" fill="#178F17" fill-opacity="0.75"/>
<rect x="291.77" y="1164.99" width="12" height="12" fill="#178F17" fill-opacity="0.75"/>
<circle cx="118.33" cy="1170.99" r="8.25" fill="#FA7D6E" fill-opacity="0.8"/>
<circle cx="143.97" cy="1153.25" r="8.25" fill="#FA7D6E" fill-opacity="0.8"/>
<circle cx="169.6" cy="1153.25" r="8.25" fill="#FA7D6E" fill-opacity="0.8"/>
<circle cx="195.23" cy="1108.91" r="8.25" fill="#FA7D6E" fill-opacity="0.8"/>
<circle cx="220.87" cy="1126.65" r="8.25" fill="#FA7D6E" fill-opacity="0.8"/>
<circle cx="246.5" cy="1117.78" r="8.25" fill="#FA7D6E" fill-opacity="0.8"/>
<circle cx="272.13" cy="1117.78" r="8.25" fill="#FA7D6E" fill-opacity="0.8"/>
<circle cx="297.77" cy="1117.78" r="8.25" fill="#FA7D6E" fill-opacity="0.8"/>
<g transform="translate(91.2 1076.1) scale(1.02 1.07)" fill="#5F001A" stroke="#5F001A" stroke-width="0.4" stroke-linejoin="round"><text x="0" y="0" font-size="26.5" font-weight="bold">S6</text></g>
<g transform="translate(326.1 1180.4) scale(1 1.06)" fill="#1C921C"><text x="0" y="0" font-size="27.6">55&#176;</text></g>
<g transform="translate(326.1 1126.7) scale(1 1.06)" fill="#FA7D6E"><text x="0" y="0" font-size="27.6">6&#8199;&#176;</text><path transform="translate(15.35 0) scale(0.01348 -0.01348)" d="M515 0L515 1237L197 1010L197 1180L530 1409L696 1409L696 0Z"/></g>
<path d="M93.4 1351.3V1342.3M93.4 1236V1245M144.67 1351.3V1342.3M144.67 1236V1245M195.93 1351.3V1342.3M195.93 1236V1245M247.2 1351.3V1342.3M247.2 1236V1245M298.47 1351.3V1342.3M298.47 1236V1245M93.4 1351.3H102.4M324.1 1351.3H315.1M93.4 1293.65H102.4M324.1 1293.65H315.1M93.4 1236H102.4M324.1 1236H315.1" stroke="#262626" stroke-width="3.0" fill="none"/>
<rect x="93.4" y="1236" width="230.7" height="115.3" fill="none" stroke="#262626" stroke-width="3.0"/>
<g transform="translate(82.4 1362.2) scale(1 1.06)" fill="#262626"><text x="-30.7" y="0" font-size="27.6">55</text></g>
<g transform="translate(82.4 1304.55) scale(1 1.06)" fill="#262626"><text x="-30.7" y="0" font-size="27.6">60</text></g>
<g transform="translate(82.4 1246.9) scale(1 1.06)" fill="#262626"><text x="-30.7" y="0" font-size="27.6">65</text></g>
<g transform="translate(93.4 1384.9) scale(1 1.06)" fill="#262626"><text x="-7.67" y="0" font-size="27.6">0</text></g>
<g transform="translate(144.67 1384.9) scale(1 1.06)" fill="#262626"><text x="-7.67" y="0" font-size="27.6">2</text></g>
<g transform="translate(195.93 1384.9) scale(1 1.06)" fill="#262626"><text x="-7.67" y="0" font-size="27.6">4</text></g>
<g transform="translate(247.2 1384.9) scale(1 1.06)" fill="#262626"><text x="-7.67" y="0" font-size="27.6">6</text></g>
<g transform="translate(298.47 1384.9) scale(1 1.06)" fill="#262626"><text x="-7.67" y="0" font-size="27.6">8</text></g>
<rect x="112.33" y="1253.06" width="12" height="12" fill="#fff"/>
<rect x="137.97" y="1253.06" width="12" height="12" fill="#fff"/>
<rect x="163.6" y="1253.06" width="12" height="12" fill="#fff"/>
<rect x="189.23" y="1253.06" width="12" height="12" fill="#fff"/>
<rect x="214.87" y="1253.06" width="12" height="12" fill="#fff"/>
<rect x="240.5" y="1253.06" width="12" height="12" fill="#fff"/>
<rect x="266.13" y="1253.06" width="12" height="12" fill="#fff"/>
<rect x="291.77" y="1253.06" width="12" height="12" fill="#fff"/>
<circle cx="118.33" cy="1316.71" r="8.25" fill="#fff"/>
<circle cx="143.97" cy="1316.71" r="8.25" fill="#fff"/>
<circle cx="169.6" cy="1316.71" r="8.25" fill="#fff"/>
<circle cx="195.23" cy="1316.71" r="8.25" fill="#fff"/>
<circle cx="220.87" cy="1316.71" r="8.25" fill="#fff"/>
<circle cx="246.5" cy="1305.18" r="8.25" fill="#fff"/>
<circle cx="272.13" cy="1305.18" r="8.25" fill="#fff"/>
<circle cx="297.77" cy="1305.18" r="8.25" fill="#fff"/>
<path d="M126.28 1316.71L136.02 1316.71M151.92 1316.71L161.65 1316.71M177.55 1316.71L187.28 1316.71M203.18 1316.71L212.92 1316.71M228.12 1313.45L239.25 1308.44M254.45 1305.18L264.18 1305.18M280.08 1305.18L289.82 1305.18" fill="none" stroke="#FA7D6E" stroke-width="2.9"/>
<path d="M124.03 1259.06L138.27 1259.06M149.67 1259.06L163.9 1259.06M175.3 1259.06L189.53 1259.06M200.93 1259.06L215.17 1259.06M226.57 1259.06L240.8 1259.06M252.2 1259.06L266.43 1259.06M277.83 1259.06L292.07 1259.06" fill="none" stroke="#1C921C" stroke-width="2.9"/>
<rect x="112.33" y="1253.06" width="12" height="12" fill="#178F17" fill-opacity="0.75"/>
<rect x="137.97" y="1253.06" width="12" height="12" fill="#178F17" fill-opacity="0.75"/>
<rect x="163.6" y="1253.06" width="12" height="12" fill="#178F17" fill-opacity="0.75"/>
<rect x="189.23" y="1253.06" width="12" height="12" fill="#178F17" fill-opacity="0.75"/>
<rect x="214.87" y="1253.06" width="12" height="12" fill="#178F17" fill-opacity="0.75"/>
<rect x="240.5" y="1253.06" width="12" height="12" fill="#178F17" fill-opacity="0.75"/>
<rect x="266.13" y="1253.06" width="12" height="12" fill="#178F17" fill-opacity="0.75"/>
<rect x="291.77" y="1253.06" width="12" height="12" fill="#178F17" fill-opacity="0.75"/>
<circle cx="118.33" cy="1316.71" r="8.25" fill="#FA7D6E" fill-opacity="0.8"/>
<circle cx="143.97" cy="1316.71" r="8.25" fill="#FA7D6E" fill-opacity="0.8"/>
<circle cx="169.6" cy="1316.71" r="8.25" fill="#FA7D6E" fill-opacity="0.8"/>
<circle cx="195.23" cy="1316.71" r="8.25" fill="#FA7D6E" fill-opacity="0.8"/>
<circle cx="220.87" cy="1316.71" r="8.25" fill="#FA7D6E" fill-opacity="0.8"/>
<circle cx="246.5" cy="1305.18" r="8.25" fill="#FA7D6E" fill-opacity="0.8"/>
<circle cx="272.13" cy="1305.18" r="8.25" fill="#FA7D6E" fill-opacity="0.8"/>
<circle cx="297.77" cy="1305.18" r="8.25" fill="#FA7D6E" fill-opacity="0.8"/>
<g transform="translate(91.2 1229.8) scale(1.02 1.07)" fill="#5F001A" stroke="#5F001A" stroke-width="0.4" stroke-linejoin="round"><text x="0" y="0" font-size="26.5" font-weight="bold">S7</text></g>
<g transform="translate(326.1 1269.5) scale(1 1.06)" fill="#1C921C"><text x="0" y="0" font-size="27.6">63&#176;</text></g>
<g transform="translate(326.1 1314.4) scale(1 1.06)" fill="#FA7D6E"><text x="0" y="0" font-size="27.6">59&#176;</text></g>
<path d="M438.9 429.1V420.1M438.9 313.8V322.8M489.88 429.1V420.1M489.88 313.8V322.8M540.86 429.1V420.1M540.86 313.8V322.8M591.83 429.1V420.1M591.83 313.8V322.8M642.81 429.1V420.1M642.81 313.8V322.8M438.9 429.1H447.9M668.3 429.1H659.3M438.9 371.45H447.9M668.3 371.45H659.3M438.9 313.8H447.9M668.3 313.8H659.3" stroke="#262626" stroke-width="3.0" fill="none"/>
<rect x="438.9" y="313.8" width="229.4" height="115.3" fill="none" stroke="#262626" stroke-width="3.0"/>
<g transform="translate(427.9 440) scale(1 1.06)" fill="#262626"><text x="-30.7" y="0" font-size="27.6">50</text></g>
<g transform="translate(427.9 382.35) scale(1 1.06)" fill="#262626"><text x="-30.7" y="0" font-size="27.6">55</text></g>
<g transform="translate(427.9 324.7) scale(1 1.06)" fill="#262626"><text x="-30.7" y="0" font-size="27.6">60</text></g>
<rect x="457.69" y="388.51" width="12" height="12" fill="#fff"/>
<rect x="483.18" y="388.51" width="12" height="12" fill="#fff"/>
<rect x="508.67" y="388.51" width="12" height="12" fill="#fff"/>
<rect x="534.16" y="388.51" width="12" height="12" fill="#fff"/>
<rect x="559.64" y="388.51" width="12" height="12" fill="#fff"/>
<rect x="585.13" y="388.51" width="12" height="12" fill="#fff"/>
<rect x="610.62" y="388.51" width="12" height="12" fill="#fff"/>
<rect x="636.11" y="388.51" width="12" height="12" fill="#fff"/>
<circle cx="463.69" cy="336.86" r="8.25" fill="#fff"/>
<circle cx="489.18" cy="336.86" r="8.25" fill="#fff"/>
<circle cx="514.67" cy="336.86" r="8.25" fill="#fff"/>
<circle cx="540.16" cy="336.86" r="8.25" fill="#fff"/>
<circle cx="565.64" cy="348.39" r="8.25" fill="#fff"/>
<circle cx="591.13" cy="348.39" r="8.25" fill="#fff"/>
<circle cx="616.62" cy="348.39" r="8.25" fill="#fff"/>
<circle cx="642.11" cy="348.39" r="8.25" fill="#fff"/>
<path d="M471.64 336.86L481.23 336.86M497.13 336.86L506.72 336.86M522.62 336.86L532.21 336.86M547.4 340.14L558.4 345.11M573.59 348.39L583.18 348.39M599.08 348.39L608.67 348.39M624.57 348.39L634.16 348.39" fill="none" stroke="#FA7D6E" stroke-width="2.9"/>
<path d="M469.39 394.51L483.48 394.51M494.88 394.51L508.97 394.51M520.37 394.51L534.46 394.51M545.86 394.51L559.94 394.51M571.34 394.51L585.43 394.51M596.83 394.51L610.92 394.51M622.32 394.51L636.41 394.51" fill="none" stroke="#1C921C" stroke-width="2.9"/>
<rect x="457.69" y="388.51" width="12" height="12" fill="#178F17" fill-opacity="0.75"/>
<rect x="483.18" y="388.51" width="12" height="12" fill="#178F17" fill-opacity="0.75"/>
<rect x="508.67" y="388.51" width="12" height="12" fill="#178F17" fill-opacity="0.75"/>
<rect x="534.16" y="388.51" width="12" height="12" fill="#178F17" fill-opacity="0.75"/>
<rect x="559.64" y="388.51" width="12" height="12" fill="#178F17" fill-opacity="0.75"/>
<rect x="585.13" y="388.51" width="12" height="12" fill="#178F17" fill-opacity="0.75"/>
<rect x="610.62" y="388.51" width="12" height="12" fill="#178F17" fill-opacity="0.75"/>
<rect x="636.11" y="388.51" width="12" height="12" fill="#178F17" fill-opacity="0.75"/>
<circle cx="463.69" cy="336.86" r="8.25" fill="#FA7D6E" fill-opacity="0.8"/>
<circle cx="489.18" cy="336.86" r="8.25" fill="#FA7D6E" fill-opacity="0.8"/>
<circle cx="514.67" cy="336.86" r="8.25" fill="#FA7D6E" fill-opacity="0.8"/>
<circle cx="540.16" cy="336.86" r="8.25" fill="#FA7D6E" fill-opacity="0.8"/>
<circle cx="565.64" cy="348.39" r="8.25" fill="#FA7D6E" fill-opacity="0.8"/>
<circle cx="591.13" cy="348.39" r="8.25" fill="#FA7D6E" fill-opacity="0.8"/>
<circle cx="616.62" cy="348.39" r="8.25" fill="#FA7D6E" fill-opacity="0.8"/>
<circle cx="642.11" cy="348.39" r="8.25" fill="#FA7D6E" fill-opacity="0.8"/>
<g transform="translate(436.7 307.6) scale(1.02 1.07)" fill="#5F001A" stroke="#5F001A" stroke-width="0.4" stroke-linejoin="round"><text x="0" y="0" font-size="26.5" font-weight="bold">S8</text></g>
<g transform="translate(670.3 404.4) scale(1 1.06)" fill="#1C921C"><text x="0" y="0" font-size="27.6">53&#176;</text></g>
<g transform="translate(670.3 359.4) scale(1 1.06)" fill="#FA7D6E"><text x="0" y="0" font-size="27.6">57&#176;</text></g>
<path d="M438.9 582.8V573.8M438.9 467.5V476.5M489.88 582.8V573.8M489.88 467.5V476.5M540.86 582.8V573.8M540.86 467.5V476.5M591.83 582.8V573.8M591.83 467.5V476.5M642.81 582.8V573.8M642.81 467.5V476.5M438.9 563.58H447.9M668.3 563.58H659.3M438.9 515.54H447.9M668.3 515.54H659.3M438.9 467.5H447.9M668.3 467.5H659.3" stroke="#262626" stroke-width="3.0" fill="none"/>
<rect x="438.9" y="467.5" width="229.4" height="115.3" fill="none" stroke="#262626" stroke-width="3.0"/>
<g transform="translate(427.9 574.48) scale(1 1.06)" fill="#262626"><text x="-30.7" y="0" font-size="27.6">65</text></g>
<g transform="translate(427.9 526.44) scale(1 1.06)" fill="#262626"><text x="-30.7" y="0" font-size="27.6">70</text></g>
<g transform="translate(427.9 478.4) scale(1 1.06)" fill="#262626"><text x="-30.7" y="0" font-size="27.6">75</text></g>
<rect x="457.69" y="547.97" width="12" height="12" fill="#fff"/>
<rect x="483.18" y="547.97" width="12" height="12" fill="#fff"/>
<rect x="508.67" y="547.97" width="12" height="12" fill="#fff"/>
<rect x="534.16" y="547.97" width="12" height="12" fill="#fff"/>
<rect x="559.64" y="547.97" width="12" height="12" fill="#fff"/>
<rect x="585.13" y="547.97" width="12" height="12" fill="#fff"/>
<rect x="610.62" y="547.97" width="12" height="12" fill="#fff"/>
<rect x="636.11" y="547.97" width="12" height="12" fill="#fff"/>
<circle cx="463.69" cy="505.93" r="8.25" fill="#fff"/>
<circle cx="489.18" cy="505.93" r="8.25" fill="#fff"/>
<circle cx="514.67" cy="505.93" r="8.25" fill="#fff"/>
<circle cx="540.16" cy="505.93" r="8.25" fill="#fff"/>
<circle cx="565.64" cy="505.93" r="8.25" fill="#fff"/>
<circle cx="591.13" cy="505.93" r="8.25" fill="#fff"/>
<circle cx="616.62" cy="505.93" r="8.25" fill="#fff"/>
<circle cx="642.11" cy="505.93" r="8.25" fill="#fff"/>
<path d="M471.64 505.93L481.23 505.93M497.13 505.93L506.72 505.93M522.62 505.93L532.21 505.93M548.11 505.93L557.69 505.93M573.59 505.93L583.18 505.93M599.08 505.93L608.67 505.93M624.57 505.93L634.16 505.93" fill="none" stroke="#FA7D6E" stroke-width="2.9"/>
<path d="M469.39 553.97L483.48 553.97M494.88 553.97L508.97 553.97M520.37 553.97L534.46 553.97M545.86 553.97L559.94 553.97M571.34 553.97L585.43 553.97M596.83 553.97L610.92 553.97M622.32 553.97L636.41 553.97" fill="none" stroke="#1C921C" stroke-width="2.9"/>
<rect x="457.69" y="547.97" width="12" height="12" fill="#178F17" fill-opacity="0.75"/>
<rect x="483.18" y="547.97" width="12" height="12" fill="#178F17" fill-opacity="0.75"/>
<rect x="508.67" y="547.97" width="12" height="12" fill="#178F17" fill-opacity="0.75"/>
<rect x="534.16" y="547.97" width="12" height="12" fill="#178F17" fill-opacity="0.75"/>
<rect x="559.64" y="547.97" width="12" height="12" fill="#178F17" fill-opacity="0.75"/>
<rect x="585.13" y="547.97" width="12" height="12" fill="#178F17" fill-opacity="0.75"/>
<rect x="610.62" y="547.97" width="12" height="12" fill="#178F17" fill-opacity="0.75"/>
<rect x="636.11" y="547.97" width="12" height="12" fill="#178F17" fill-opacity="0.75"/>
<circle cx="463.69" cy="505.93" r="8.25" fill="#FA7D6E" fill-opacity="0.8"/>
<circle cx="489.18" cy="505.93" r="8.25" fill="#FA7D6E" fill-opacity="0.8"/>
<circle cx="514.67" cy="505.93" r="8.25" fill="#FA7D6E" fill-opacity="0.8"/>
<circle cx="540.16" cy="505.93" r="8.25" fill="#FA7D6E" fill-opacity="0.8"/>
<circle cx="565.64" cy="505.93" r="8.25" fill="#FA7D6E" fill-opacity="0.8"/>
<circle cx="591.13" cy="505.93" r="8.25" fill="#FA7D6E" fill-opacity="0.8"/>
<circle cx="616.62" cy="505.93" r="8.25" fill="#FA7D6E" fill-opacity="0.8"/>
<circle cx="642.11" cy="505.93" r="8.25" fill="#FA7D6E" fill-opacity="0.8"/>
<g transform="translate(436.7 461.3) scale(1.02 1.07)" fill="#5F001A" stroke="#5F001A" stroke-width="0.4" stroke-linejoin="round"><text x="0" y="0" font-size="26.5" font-weight="bold">S9</text></g>
<g transform="translate(670.3 563.5) scale(1 1.06)" fill="#1C921C"><text x="0" y="0" font-size="27.6">66&#176;</text></g>
<g transform="translate(670.3 516.3) scale(1 1.06)" fill="#FA7D6E"><text x="0" y="0" font-size="27.6">7&#8199;&#176;</text><path transform="translate(15.35 0) scale(0.01348 -0.01348)" d="M515 0L515 1237L197 1010L197 1180L530 1409L696 1409L696 0Z"/></g>
<path d="M438.9 736.5V727.5M438.9 621.2V630.2M489.88 736.5V727.5M489.88 621.2V630.2M540.86 736.5V727.5M540.86 621.2V630.2M591.83 736.5V727.5M591.83 621.2V630.2M642.81 736.5V727.5M642.81 621.2V630.2M438.9 736.5H447.9M668.3 736.5H659.3M438.9 704.47H447.9M668.3 704.47H659.3M438.9 672.44H447.9M668.3 672.44H659.3M438.9 640.42H447.9M668.3 640.42H659.3" stroke="#262626" stroke-width="3.0" fill="none"/>
<rect x="438.9" y="621.2" width="229.4" height="115.3" fill="none" stroke="#262626" stroke-width="3.0"/>
<g transform="translate(427.9 747.4) scale(1 1.06)" fill="#262626"><text x="-46.05" y="0" font-size="27.6">240</text></g>
<g transform="translate(427.9 715.37) scale(1 1.06)" fill="#262626"><text x="-46.05" y="0" font-size="27.6">245</text></g>
<g transform="translate(427.9 683.34) scale(1 1.06)" fill="#262626"><text x="-46.05" y="0" font-size="27.6">250</text></g>
<g transform="translate(427.9 651.32) scale(1 1.06)" fill="#262626"><text x="-46.05" y="0" font-size="27.6">255</text></g>
<rect x="457.69" y="679.26" width="12" height="12" fill="#fff"/>
<rect x="483.18" y="679.26" width="12" height="12" fill="#fff"/>
<rect x="508.67" y="679.26" width="12" height="12" fill="#fff"/>
<rect x="534.16" y="679.26" width="12" height="12" fill="#fff"/>
<rect x="559.64" y="679.26" width="12" height="12" fill="#fff"/>
<rect x="585.13" y="679.26" width="12" height="12" fill="#fff"/>
<rect x="610.62" y="679.26" width="12" height="12" fill="#fff"/>
<rect x="636.11" y="679.26" width="12" height="12" fill="#fff"/>
<circle cx="463.69" cy="710.88" r="8.25" fill="#fff"/>
<circle cx="489.18" cy="659.63" r="8.25" fill="#fff"/>
<circle cx="514.67" cy="653.23" r="8.25" fill="#fff"/>
<circle cx="540.16" cy="653.23" r="8.25" fill="#fff"/>
<circle cx="565.64" cy="646.82" r="8.25" fill="#fff"/>
<circle cx="591.13" cy="646.82" r="8.25" fill="#fff"/>
<circle cx="616.62" cy="646.82" r="8.25" fill="#fff"/>
<circle cx="642.11" cy="646.82" r="8.25" fill="#fff"/>
<path d="M467.23 703.76L485.64 666.75M496.89 657.7L506.96 655.17M522.62 653.23L532.21 653.23M547.87 651.29L557.93 648.76M573.59 646.82L583.18 646.82M599.08 646.82L608.67 646.82M624.57 646.82L634.16 646.82" fill="none" stroke="#FA7D6E" stroke-width="2.9"/>
<path d="M469.39 685.26L483.48 685.26M494.88 685.26L508.97 685.26M520.37 685.26L534.46 685.26M545.86 685.26L559.94 685.26M571.34 685.26L585.43 685.26M596.83 685.26L610.92 685.26M622.32 685.26L636.41 685.26" fill="none" stroke="#1C921C" stroke-width="2.9"/>
<rect x="457.69" y="679.26" width="12" height="12" fill="#178F17" fill-opacity="0.75"/>
<rect x="483.18" y="679.26" width="12" height="12" fill="#178F17" fill-opacity="0.75"/>
<rect x="508.67" y="679.26" width="12" height="12" fill="#178F17" fill-opacity="0.75"/>
<rect x="534.16" y="679.26" width="12" height="12" fill="#178F17" fill-opacity="0.75"/>
<rect x="559.64" y="679.26" width="12" height="12" fill="#178F17" fill-opacity="0.75"/>
<rect x="585.13" y="679.26" width="12" height="12" fill="#178F17" fill-opacity="0.75"/>
<rect x="610.62" y="679.26" width="12" height="12" fill="#178F17" fill-opacity="0.75"/>
<rect x="636.11" y="679.26" width="12" height="12" fill="#178F17" fill-opacity="0.75"/>
<circle cx="463.69" cy="710.88" r="8.25" fill="#FA7D6E" fill-opacity="0.8"/>
<circle cx="489.18" cy="659.63" r="8.25" fill="#FA7D6E" fill-opacity="0.8"/>
<circle cx="514.67" cy="653.23" r="8.25" fill="#FA7D6E" fill-opacity="0.8"/>
<circle cx="540.16" cy="653.23" r="8.25" fill="#FA7D6E" fill-opacity="0.8"/>
<circle cx="565.64" cy="646.82" r="8.25" fill="#FA7D6E" fill-opacity="0.8"/>
<circle cx="591.13" cy="646.82" r="8.25" fill="#FA7D6E" fill-opacity="0.8"/>
<circle cx="616.62" cy="646.82" r="8.25" fill="#FA7D6E" fill-opacity="0.8"/>
<circle cx="642.11" cy="646.82" r="8.25" fill="#FA7D6E" fill-opacity="0.8"/>
<g transform="translate(436.7 615) scale(1.02 1.07)" fill="#003BB5" stroke="#003BB5" stroke-width="0.4" stroke-linejoin="round"><text x="0" y="0" font-size="26.5" font-weight="bold">S&#8199;0</text><path transform="translate(17.68 0) scale(0.01294 -0.01294)" d="M478 0L478 1170L140 959L140 1180L493 1409L759 1409L759 0Z"/></g>
<g transform="translate(670.3 695.9) scale(1 1.06)" fill="#1C921C"><text x="0" y="0" font-size="27.6">248&#176;</text></g>
<g transform="translate(670.3 656.8) scale(1 1.06)" fill="#FA7D6E"><text x="0" y="0" font-size="27.6">254&#176;</text></g>
<path d="M438.9 890.2V881.2M438.9 774.9V783.9M489.88 890.2V881.2M489.88 774.9V783.9M540.86 890.2V881.2M540.86 774.9V783.9M591.83 890.2V881.2M591.83 774.9V783.9M642.81 890.2V881.2M642.81 774.9V783.9M438.9 890.2H447.9M668.3 890.2H659.3M438.9 832.55H447.9M668.3 832.55H659.3M438.9 774.9H447.9M668.3 774.9H659.3" stroke="#262626" stroke-width="3.0" fill="none"/>
<rect x="438.9" y="774.9" width="229.4" height="115.3" fill="none" stroke="#262626" stroke-width="3.0"/>
<g transform="translate(427.9 901.1) scale(1 1.06)" fill="#262626"><text x="-46.05" y="0" font-size="27.6">220</text></g>
<g transform="translate(427.9 843.45) scale(1 1.06)" fill="#262626"><text x="-46.05" y="0" font-size="27.6">225</text></g>
<g transform="translate(427.9 785.8) scale(1 1.06)" fill="#262626"><text x="-46.05" y="0" font-size="27.6">230</text></g>
<rect x="457.69" y="826.55" width="12" height="12" fill="#fff"/>
<rect x="483.18" y="826.55" width="12" height="12" fill="#fff"/>
<rect x="508.67" y="826.55" width="12" height="12" fill="#fff"/>
<rect x="534.16" y="826.55" width="12" height="12" fill="#fff"/>
<rect x="559.64" y="826.55" width="12" height="12" fill="#fff"/>
<rect x="585.13" y="826.55" width="12" height="12" fill="#fff"/>
<rect x="610.62" y="826.55" width="12" height="12" fill="#fff"/>
<rect x="636.11" y="826.55" width="12" height="12" fill="#fff"/>
<circle cx="463.69" cy="832.55" r="8.25" fill="#fff"/>
<circle cx="489.18" cy="844.08" r="8.25" fill="#fff"/>
<circle cx="514.67" cy="844.08" r="8.25" fill="#fff"/>
<circle cx="540.16" cy="844.08" r="8.25" fill="#fff"/>
<circle cx="565.64" cy="844.08" r="8.25" fill="#fff"/>
<circle cx="591.13" cy="844.08" r="8.25" fill="#fff"/>
<circle cx="616.62" cy="844.08" r="8.25" fill="#fff"/>
<circle cx="642.11" cy="844.08" r="8.25" fill="#fff"/>
<path d="M470.93 835.83L481.93 840.8M497.13 844.08L506.72 844.08M522.62 844.08L532.21 844.08M548.11 844.08L557.69 844.08M573.59 844.08L583.18 844.08M599.08 844.08L608.67 844.08M624.57 844.08L634.16 844.08" fill="none" stroke="#FA7D6E" stroke-width="2.9"/>
<path d="M469.39 832.55L483.48 832.55M494.88 832.55L508.97 832.55M520.37 832.55L534.46 832.55M545.86 832.55L559.94 832.55M571.34 832.55L585.43 832.55M596.83 832.55L610.92 832.55M622.32 832.55L636.41 832.55" fill="none" stroke="#1C921C" stroke-width="2.9"/>
<rect x="457.69" y="826.55" width="12" height="12" fill="#178F17" fill-opacity="0.75"/>
<rect x="483.18" y="826.55" width="12" height="12" fill="#178F17" fill-opacity="0.75"/>
<rect x="508.67" y="826.55" width="12" height="12" fill="#178F17" fill-opacity="0.75"/>
<rect x="534.16" y="826.55" width="12" height="12" fill="#178F17" fill-opacity="0.75"/>
<rect x="559.64" y="826.55" width="12" height="12" fill="#178F17" fill-opacity="0.75"/>
<rect x="585.13" y="826.55" width="12" height="12" fill="#178F17" fill-opacity="0.75"/>
<rect x="610.62" y="826.55" width="12" height="12" fill="#178F17" fill-opacity="0.75"/>
<rect x="636.11" y="826.55" width="12" height="12" fill="#178F17" fill-opacity="0.75"/>
<circle cx="463.69" cy="832.55" r="8.25" fill="#FA7D6E" fill-opacity="0.8"/>
<circle cx="489.18" cy="844.08" r="8.25" fill="#FA7D6E" fill-opacity="0.8"/>
<circle cx="514.67" cy="844.08" r="8.25" fill="#FA7D6E" fill-opacity="0.8"/>
<circle cx="540.16" cy="844.08" r="8.25" fill="#FA7D6E" fill-opacity="0.8"/>
<circle cx="565.64" cy="844.08" r="8.25" fill="#FA7D6E" fill-opacity="0.8"/>
<circle cx="591.13" cy="844.08" r="8.25" fill="#FA7D6E" fill-opacity="0.8"/>
<circle cx="616.62" cy="844.08" r="8.25" fill="#FA7D6E" fill-opacity="0.8"/>
<circle cx="642.11" cy="844.08" r="8.25" fill="#FA7D6E" fill-opacity="0.8"/>
<g transform="translate(436.7 768.7) scale(1.02 1.07)" fill="#003BB5" stroke="#003BB5" stroke-width="0.4" stroke-linejoin="round"><text x="0" y="0" font-size="26.5" font-weight="bold">S&#8199;&#8199;</text><path transform="translate(17.68 0) scale(0.01294 -0.01294)" d="M478 0L478 1170L140 959L140 1180L493 1409L759 1409L759 0Z"/><path transform="translate(32.41 0) scale(0.01294 -0.01294)" d="M478 0L478 1170L140 959L140 1180L493 1409L759 1409L759 0Z"/></g>
<g transform="translate(670.3 837.6) scale(1 1.06)" fill="#1C921C"><text x="0" y="0" font-size="27.6">225</text></g>
<g transform="translate(670.3 861.8) scale(1 1.06)" fill="#FA7D6E"><text x="0" y="0" font-size="27.6">224</text></g>
<path d="M438.9 1043.9V1034.9M438.9 928.6V937.6M489.88 1043.9V1034.9M489.88 928.6V937.6M540.86 1043.9V1034.9M540.86 928.6V937.6M591.83 1043.9V1034.9M591.83 928.6V937.6M642.81 1043.9V1034.9M642.81 928.6V937.6M438.9 1043.9H447.9M668.3 1043.9H659.3M438.9 971.84H447.9M668.3 971.84H659.3" stroke="#262626" stroke-width="3.0" fill="none"/>
<rect x="438.9" y="928.6" width="229.4" height="115.3" fill="none" stroke="#262626" stroke-width="3.0"/>
<g transform="translate(427.9 1054.8) scale(1 1.06)" fill="#262626"><text x="-46.05" y="0" font-size="27.6">275</text></g>
<g transform="translate(427.9 982.74) scale(1 1.06)" fill="#262626"><text x="-46.05" y="0" font-size="27.6">280</text></g>
<rect x="457.69" y="965.84" width="12" height="12" fill="#fff"/>
<rect x="483.18" y="965.84" width="12" height="12" fill="#fff"/>
<rect x="508.67" y="965.84" width="12" height="12" fill="#fff"/>
<rect x="534.16" y="965.84" width="12" height="12" fill="#fff"/>
<rect x="559.64" y="965.84" width="12" height="12" fill="#fff"/>
<rect x="585.13" y="965.84" width="12" height="12" fill="#fff"/>
<rect x="610.62" y="965.84" width="12" height="12" fill="#fff"/>
<rect x="636.11" y="965.84" width="12" height="12" fill="#fff"/>
<circle cx="463.69" cy="1000.66" r="8.25" fill="#fff"/>
<circle cx="489.18" cy="1015.07" r="8.25" fill="#fff"/>
<circle cx="514.67" cy="1015.07" r="8.25" fill="#fff"/>
<circle cx="540.16" cy="1015.07" r="8.25" fill="#fff"/>
<circle cx="565.64" cy="1015.07" r="8.25" fill="#fff"/>
<circle cx="591.13" cy="1015.07" r="8.25" fill="#fff"/>
<circle cx="616.62" cy="1015.07" r="8.25" fill="#fff"/>
<circle cx="642.11" cy="1015.07" r="8.25" fill="#fff"/>
<path d="M470.61 1004.58L482.26 1011.16M497.13 1015.07L506.72 1015.07M522.62 1015.07L532.21 1015.07M548.11 1015.07L557.69 1015.07M573.59 1015.07L583.18 1015.07M599.08 1015.07L608.67 1015.07M624.57 1015.07L634.16 1015.07" fill="none" stroke="#FA7D6E" stroke-width="2.9"/>
<path d="M469.39 971.84L483.48 971.84M494.88 971.84L508.97 971.84M520.37 971.84L534.46 971.84M545.86 971.84L559.94 971.84M571.34 971.84L585.43 971.84M596.83 971.84L610.92 971.84M622.32 971.84L636.41 971.84" fill="none" stroke="#1C921C" stroke-width="2.9"/>
<rect x="457.69" y="965.84" width="12" height="12" fill="#178F17" fill-opacity="0.75"/>
<rect x="483.18" y="965.84" width="12" height="12" fill="#178F17" fill-opacity="0.75"/>
<rect x="508.67" y="965.84" width="12" height="12" fill="#178F17" fill-opacity="0.75"/>
<rect x="534.16" y="965.84" width="12" height="12" fill="#178F17" fill-opacity="0.75"/>
<rect x="559.64" y="965.84" width="12" height="12" fill="#178F17" fill-opacity="0.75"/>
<rect x="585.13" y="965.84" width="12" height="12" fill="#178F17" fill-opacity="0.75"/>
<rect x="610.62" y="965.84" width="12" height="12" fill="#178F17" fill-opacity="0.75"/>
<rect x="636.11" y="965.84" width="12" height="12" fill="#178F17" fill-opacity="0.75"/>
<circle cx="463.69" cy="1000.66" r="8.25" fill="#FA7D6E" fill-opacity="0.8"/>
<circle cx="489.18" cy="1015.07" r="8.25" fill="#FA7D6E" fill-opacity="0.8"/>
<circle cx="514.67" cy="1015.07" r="8.25" fill="#FA7D6E" fill-opacity="0.8"/>
<circle cx="540.16" cy="1015.07" r="8.25" fill="#FA7D6E" fill-opacity="0.8"/>
<circle cx="565.64" cy="1015.07" r="8.25" fill="#FA7D6E" fill-opacity="0.8"/>
<circle cx="591.13" cy="1015.07" r="8.25" fill="#FA7D6E" fill-opacity="0.8"/>
<circle cx="616.62" cy="1015.07" r="8.25" fill="#FA7D6E" fill-opacity="0.8"/>
<circle cx="642.11" cy="1015.07" r="8.25" fill="#FA7D6E" fill-opacity="0.8"/>
<g transform="translate(436.7 922.4) scale(1.02 1.07)" fill="#003BB5" stroke="#003BB5" stroke-width="0.4" stroke-linejoin="round"><text x="0" y="0" font-size="26.5" font-weight="bold">S&#8199;2</text><path transform="translate(17.68 0) scale(0.01294 -0.01294)" d="M478 0L478 1170L140 959L140 1180L493 1409L759 1409L759 0Z"/></g>
<g transform="translate(670.3 981.1) scale(1 1.06)" fill="#1C921C"><text x="0" y="0" font-size="27.6">280&#176;</text></g>
<g transform="translate(670.3 1024.4) scale(1 1.06)" fill="#FA7D6E"><text x="0" y="0" font-size="27.6">277&#176;</text></g>
<path d="M438.9 1197.6V1188.6M438.9 1082.3V1091.3M489.88 1197.6V1188.6M489.88 1082.3V1091.3M540.86 1197.6V1188.6M540.86 1082.3V1091.3M591.83 1197.6V1188.6M591.83 1082.3V1091.3M642.81 1197.6V1188.6M642.81 1082.3V1091.3M438.9 1178.38H447.9M668.3 1178.38H659.3M438.9 1130.34H447.9M668.3 1130.34H659.3M438.9 1082.3H447.9M668.3 1082.3H659.3" stroke="#262626" stroke-width="3.0" fill="none"/>
<rect x="438.9" y="1082.3" width="229.4" height="115.3" fill="none" stroke="#262626" stroke-width="3.0"/>
<g transform="translate(427.9 1189.28) scale(1 1.06)" fill="#262626"><text x="-46.05" y="0" font-size="27.6">255</text></g>
<g transform="translate(427.9 1141.24) scale(1 1.06)" fill="#262626"><text x="-46.05" y="0" font-size="27.6">260</text></g>
<g transform="translate(427.9 1093.2) scale(1 1.06)" fill="#262626"><text x="-46.05" y="0" font-size="27.6">265</text></g>
<g transform="translate(438.9 1236.9) scale(1 1.06)" fill="#262626"><text x="-7.67" y="0" font-size="27.6">0</text></g>
<g transform="translate(489.88 1236.9) scale(1 1.06)" fill="#262626"><text x="-7.67" y="0" font-size="27.6">2</text></g>
<g transform="translate(540.86 1236.9) scale(1 1.06)" fill="#262626"><text x="-7.67" y="0" font-size="27.6">4</text></g>
<g transform="translate(591.83 1236.9) scale(1 1.06)" fill="#262626"><text x="-7.67" y="0" font-size="27.6">6</text></g>
<g transform="translate(642.81 1236.9) scale(1 1.06)" fill="#262626"><text x="-7.67" y="0" font-size="27.6">8</text></g>
<rect x="457.69" y="1172.38" width="12" height="12" fill="#fff"/>
<rect x="483.18" y="1172.38" width="12" height="12" fill="#fff"/>
<rect x="508.67" y="1172.38" width="12" height="12" fill="#fff"/>
<rect x="534.16" y="1172.38" width="12" height="12" fill="#fff"/>
<rect x="559.64" y="1172.38" width="12" height="12" fill="#fff"/>
<rect x="585.13" y="1172.38" width="12" height="12" fill="#fff"/>
<rect x="610.62" y="1172.38" width="12" height="12" fill="#fff"/>
<rect x="636.11" y="1172.38" width="12" height="12" fill="#fff"/>
<circle cx="463.69" cy="1111.12" r="8.25" fill="#fff"/>
<circle cx="489.18" cy="1159.17" r="8.25" fill="#fff"/>
<circle cx="514.67" cy="1159.17" r="8.25" fill="#fff"/>
<circle cx="540.16" cy="1159.17" r="8.25" fill="#fff"/>
<circle cx="565.64" cy="1159.17" r="8.25" fill="#fff"/>
<circle cx="591.13" cy="1159.17" r="8.25" fill="#fff"/>
<circle cx="616.62" cy="1159.17" r="8.25" fill="#fff"/>
<circle cx="642.11" cy="1159.17" r="8.25" fill="#fff"/>
<path d="M467.41 1118.15L485.45 1152.14M497.13 1159.17L506.72 1159.17M522.62 1159.17L532.21 1159.17M548.11 1159.17L557.69 1159.17M573.59 1159.17L583.18 1159.17M599.08 1159.17L608.67 1159.17M624.57 1159.17L634.16 1159.17" fill="none" stroke="#FA7D6E" stroke-width="2.9"/>
<path d="M469.39 1178.38L483.48 1178.38M494.88 1178.38L508.97 1178.38M520.37 1178.38L534.46 1178.38M545.86 1178.38L559.94 1178.38M571.34 1178.38L585.43 1178.38M596.83 1178.38L610.92 1178.38M622.32 1178.38L636.41 1178.38" fill="none" stroke="#1C921C" stroke-width="2.9"/>
<rect x="457.69" y="1172.38" width="12" height="12" fill="#178F17" fill-opacity="0.75"/>
<rect x="483.18" y="1172.38" width="12" height="12" fill="#178F17" fill-opacity="0.75"/>
<rect x="508.67" y="1172.38" width="12" height="12" fill="#178F17" fill-opacity="0.75"/>
<rect x="534.16" y="1172.38" width="12" height="12" fill="#178F17" fill-opacity="0.75"/>
<rect x="559.64" y="1172.38" width="12" height="12" fill="#178F17" fill-opacity="0.75"/>
<rect x="585.13" y="1172.38" width="12" height="12" fill="#178F17" fill-opacity="0.75"/>
<rect x="610.62" y="1172.38" width="12" height="12" fill="#178F17" fill-opacity="0.75"/>
<rect x="636.11" y="1172.38" width="12" height="12" fill="#178F17" fill-opacity="0.75"/>
<circle cx="463.69" cy="1111.12" r="8.25" fill="#FA7D6E" fill-opacity="0.8"/>
<circle cx="489.18" cy="1159.17" r="8.25" fill="#FA7D6E" fill-opacity="0.8"/>
<circle cx="514.67" cy="1159.17" r="8.25" fill="#FA7D6E" fill-opacity="0.8"/>
<circle cx="540.16" cy="1159.17" r="8.25" fill="#FA7D6E" fill-opacity="0.8"/>
<circle cx="565.64" cy="1159.17" r="8.25" fill="#FA7D6E" fill-opacity="0.8"/>
<circle cx="591.13" cy="1159.17" r="8.25" fill="#FA7D6E" fill-opacity="0.8"/>
<circle cx="616.62" cy="1159.17" r="8.25" fill="#FA7D6E" fill-opacity="0.8"/>
<circle cx="642.11" cy="1159.17" r="8.25" fill="#FA7D6E" fill-opacity="0.8"/>
<g transform="translate(436.7 1076.1) scale(1.02 1.07)" fill="#003BB5" stroke="#003BB5" stroke-width="0.4" stroke-linejoin="round"><text x="0" y="0" font-size="26.5" font-weight="bold">S&#8199;3</text><path transform="translate(17.68 0) scale(0.01294 -0.01294)" d="M478 0L478 1170L140 959L140 1180L493 1409L759 1409L759 0Z"/></g>
<g transform="translate(670.3 1188.5) scale(1 1.06)" fill="#1C921C"><text x="0" y="0" font-size="27.6">255&#176;</text></g>
<g transform="translate(670.3 1163.3) scale(1 1.06)" fill="#FA7D6E"><text x="0" y="0" font-size="27.6">257&#176;</text></g>
<path d="M830.3 429.1V420.1M830.3 313.8V322.8M881.32 429.1V420.1M881.32 313.8V322.8M932.34 429.1V420.1M932.34 313.8V322.8M983.37 429.1V420.1M983.37 313.8V322.8M1034.39 429.1V420.1M1034.39 313.8V322.8M830.3 412.63H839.3M1059.9 412.63H1050.9M830.3 330.27H839.3M1059.9 330.27H1050.9" stroke="#262626" stroke-width="3.0" fill="none"/>
<rect x="830.3" y="313.8" width="229.6" height="115.3" fill="none" stroke="#262626" stroke-width="3.0"/>
<g transform="translate(819.3 423.53) scale(1 1.06)" fill="#262626"><text x="-30.7" y="0" font-size="27.6">85</text></g>
<g transform="translate(819.3 341.17) scale(1 1.06)" fill="#262626"><text x="-30.7" y="0" font-size="27.6">90</text></g>
<rect x="849.11" y="324.27" width="12" height="12" fill="#fff"/>
<rect x="874.62" y="340.74" width="12" height="12" fill="#fff"/>
<rect x="900.13" y="373.69" width="12" height="12" fill="#fff"/>
<rect x="925.64" y="373.69" width="12" height="12" fill="#fff"/>
<rect x="951.16" y="406.63" width="12" height="12" fill="#fff"/>
<rect x="976.67" y="390.16" width="12" height="12" fill="#fff"/>
<rect x="1002.18" y="390.16" width="12" height="12" fill="#fff"/>
<rect x="1027.69" y="406.63" width="12" height="12" fill="#fff"/>
<circle cx="855.11" cy="346.74" r="8.25" fill="#fff"/>
<circle cx="880.62" cy="379.69" r="8.25" fill="#fff"/>
<circle cx="906.13" cy="379.69" r="8.25" fill="#fff"/>
<circle cx="931.64" cy="412.63" r="8.25" fill="#fff"/>
<circle cx="957.16" cy="396.16" r="8.25" fill="#fff"/>
<circle cx="982.67" cy="396.16" r="8.25" fill="#fff"/>
<circle cx="1008.18" cy="412.63" r="8.25" fill="#fff"/>
<circle cx="1033.69" cy="412.63" r="8.25" fill="#fff"/>
<path d="M859.98 353.03L875.75 373.4M888.57 379.69L898.18 379.69M911 385.97L926.78 406.34M938.32 408.32L950.48 400.47M965.11 396.16L974.72 396.16M989.35 400.47L1001.5 408.32M1016.13 412.63L1025.74 412.63" fill="none" stroke="#FA7D6E" stroke-width="2.9"/>
<path d="M860.86 333.98L874.87 343.03M885.08 352.51L901.67 373.92M911.83 379.69L925.94 379.69M936.11 385.45L952.69 406.87M962.9 408.92L976.92 399.87M988.37 396.16L1002.48 396.16M1013.93 399.87L1027.94 408.92" fill="none" stroke="#1C921C" stroke-width="2.9"/>
<rect x="849.11" y="324.27" width="12" height="12" fill="#178F17" fill-opacity="0.75"/>
<rect x="874.62" y="340.74" width="12" height="12" fill="#178F17" fill-opacity="0.75"/>
<rect x="900.13" y="373.69" width="12" height="12" fill="#178F17" fill-opacity="0.75"/>
<rect x="925.64" y="373.69" width="12" height="12" fill="#178F17" fill-opacity="0.75"/>
<rect x="951.16" y="406.63" width="12" height="12" fill="#178F17" fill-opacity="0.75"/>
<rect x="976.67" y="390.16" width="12" height="12" fill="#178F17" fill-opacity="0.75"/>
<rect x="1002.18" y="390.16" width="12" height="12" fill="#178F17" fill-opacity="0.75"/>
<rect x="1027.69" y="406.63" width="12" height="12" fill="#178F17" fill-opacity="0.75"/>
<circle cx="855.11" cy="346.74" r="8.25" fill="#FA7D6E" fill-opacity="0.8"/>
<circle cx="880.62" cy="379.69" r="8.25" fill="#FA7D6E" fill-opacity="0.8"/>
<circle cx="906.13" cy="379.69" r="8.25" fill="#FA7D6E" fill-opacity="0.8"/>
<circle cx="931.64" cy="412.63" r="8.25" fill="#FA7D6E" fill-opacity="0.8"/>
<circle cx="957.16" cy="396.16" r="8.25" fill="#FA7D6E" fill-opacity="0.8"/>
<circle cx="982.67" cy="396.16" r="8.25" fill="#FA7D6E" fill-opacity="0.8"/>
<circle cx="1008.18" cy="412.63" r="8.25" fill="#FA7D6E" fill-opacity="0.8"/>
<circle cx="1033.69" cy="412.63" r="8.25" fill="#FA7D6E" fill-opacity="0.8"/>
<g transform="translate(828.1 307.6) scale(1.02 1.07)" fill="#5F001A" stroke="#5F001A" stroke-width="0.4" stroke-linejoin="round"><text x="0" y="0" font-size="26.5" font-weight="bold">S&#8199;</text><path transform="translate(17.68 0) scale(0.01294 -0.01294)" d="M478 0L478 1170L140 959L140 1180L493 1409L759 1409L759 0Z"/></g>
<g transform="translate(1061.9 407.5) scale(1 1.06)" fill="#1C921C"><text x="0" y="0" font-size="27.6">85&#176;</text></g>
<g transform="translate(1061.9 439.9) scale(1 1.06)" fill="#FA7D6E"><text x="0" y="0" font-size="27.6">85&#176;</text></g>
<path d="M830.3 582.8V573.8M830.3 467.5V476.5M881.32 582.8V573.8M881.32 467.5V476.5M932.34 582.8V573.8M932.34 467.5V476.5M983.37 582.8V573.8M983.37 467.5V476.5M1034.39 582.8V573.8M1034.39 467.5V476.5M830.3 563.58H839.3M1059.9 563.58H1050.9M830.3 536.13H839.3M1059.9 536.13H1050.9M830.3 508.68H839.3M1059.9 508.68H1050.9M830.3 481.23H839.3M1059.9 481.23H1050.9" stroke="#262626" stroke-width="3.0" fill="none"/>
<rect x="830.3" y="467.5" width="229.6" height="115.3" fill="none" stroke="#262626" stroke-width="3.0"/>
<g transform="translate(819.3 574.48) scale(1 1.06)" fill="#262626"><text x="-30.7" y="0" font-size="27.6">60</text></g>
<g transform="translate(819.3 547.03) scale(1 1.06)" fill="#262626"><text x="-30.7" y="0" font-size="27.6">70</text></g>
<g transform="translate(819.3 519.58) scale(1 1.06)" fill="#262626"><text x="-30.7" y="0" font-size="27.6">80</text></g>
<g transform="translate(819.3 492.13) scale(1 1.06)" fill="#262626"><text x="-30.7" y="0" font-size="27.6">90</text></g>
<rect x="849.11" y="475.23" width="12" height="12" fill="#fff"/>
<rect x="874.62" y="488.95" width="12" height="12" fill="#fff"/>
<rect x="900.13" y="502.68" width="12" height="12" fill="#fff"/>
<rect x="925.64" y="508.17" width="12" height="12" fill="#fff"/>
<rect x="951.16" y="571.31" width="12" height="12" fill="#fff"/>
<rect x="976.67" y="535.62" width="12" height="12" fill="#fff"/>
<rect x="1002.18" y="538.37" width="12" height="12" fill="#fff"/>
<rect x="1027.69" y="535.62" width="12" height="12" fill="#fff"/>
<circle cx="855.11" cy="494.95" r="8.25" fill="#fff"/>
<circle cx="880.62" cy="508.68" r="8.25" fill="#fff"/>
<circle cx="906.13" cy="514.17" r="8.25" fill="#fff"/>
<circle cx="931.64" cy="577.31" r="8.25" fill="#fff"/>
<circle cx="957.16" cy="541.62" r="8.25" fill="#fff"/>
<circle cx="982.67" cy="544.37" r="8.25" fill="#fff"/>
<circle cx="1008.18" cy="541.62" r="8.25" fill="#fff"/>
<circle cx="1033.69" cy="544.37" r="8.25" fill="#fff"/>
<path d="M862.11 498.72L873.62 504.91M888.39 510.35L898.36 512.5M909.11 521.54L928.67 569.94M936.27 570.84L952.53 548.09M965.06 542.47L974.76 543.52M990.57 543.52L1000.27 542.47M1016.08 542.47L1025.78 543.52" fill="none" stroke="#FA7D6E" stroke-width="2.9"/>
<path d="M860.85 484.31L874.89 491.87M886.36 498.04L900.4 505.59M911.84 509.91L925.94 512.94M933.96 519.89L954.84 571.59M961.27 571.55L978.55 547.38M988.37 542.23L1002.48 543.75M1013.88 543.75L1027.99 542.23" fill="none" stroke="#1C921C" stroke-width="2.9"/>
<rect x="849.11" y="475.23" width="12" height="12" fill="#178F17" fill-opacity="0.75"/>
<rect x="874.62" y="488.95" width="12" height="12" fill="#178F17" fill-opacity="0.75"/>
<rect x="900.13" y="502.68" width="12" height="12" fill="#178F17" fill-opacity="0.75"/>
<rect x="925.64" y="508.17" width="12" height="12" fill="#178F17" fill-opacity="0.75"/>
<rect x="951.16" y="571.31" width="12" height="12" fill="#178F17" fill-opacity="0.75"/>
<rect x="976.67" y="535.62" width="12" height="12" fill="#178F17" fill-opacity="0.75"/>
<rect x="1002.18" y="538.37" width="12" height="12" fill="#178F17" fill-opacity="0.75"/>
<rect x="1027.69" y="535.62" width="12" height="12" fill="#178F17" fill-opacity="0.75"/>
<circle cx="855.11" cy="494.95" r="8.25" fill="#FA7D6E" fill-opacity="0.8"/>
<circle cx="880.62" cy="508.68" r="8.25" fill="#FA7D6E" fill-opacity="0.8"/>
<circle cx="906.13" cy="514.17" r="8.25" fill="#FA7D6E" fill-opacity="0.8"/>
<circle cx="931.64" cy="577.31" r="8.25" fill="#FA7D6E" fill-opacity="0.8"/>
<circle cx="957.16" cy="541.62" r="8.25" fill="#FA7D6E" fill-opacity="0.8"/>
<circle cx="982.67" cy="544.37" r="8.25" fill="#FA7D6E" fill-opacity="0.8"/>
<circle cx="1008.18" cy="541.62" r="8.25" fill="#FA7D6E" fill-opacity="0.8"/>
<circle cx="1033.69" cy="544.37" r="8.25" fill="#FA7D6E" fill-opacity="0.8"/>
<g transform="translate(828.1 461.3) scale(1.02 1.07)" fill="#5F001A" stroke="#5F001A" stroke-width="0.4" stroke-linejoin="round"><text x="0" y="0" font-size="26.5" font-weight="bold">S2</text></g>
<g transform="translate(1061.9 541.4) scale(1 1.06)" fill="#1C921C"><text x="0" y="0" font-size="27.6">68&#176;</text></g>
<g transform="translate(1061.9 562.9) scale(1 1.06)" fill="#FA7D6E"><text x="0" y="0" font-size="27.6">67&#176;</text></g>
<path d="M830.3 736.5V727.5M830.3 621.2V630.2M881.32 736.5V727.5M881.32 621.2V630.2M932.34 736.5V727.5M932.34 621.2V630.2M983.37 736.5V727.5M983.37 621.2V630.2M1034.39 736.5V727.5M1034.39 621.2V630.2M830.3 727.96H839.3M1059.9 727.96H1050.9M830.3 685.26H839.3M1059.9 685.26H1050.9M830.3 642.55H839.3M1059.9 642.55H1050.9" stroke="#262626" stroke-width="3.0" fill="none"/>
<rect x="830.3" y="621.2" width="229.6" height="115.3" fill="none" stroke="#262626" stroke-width="3.0"/>
<g transform="translate(819.3 738.86) scale(1 1.06)" fill="#262626"><text x="-30.7" y="0" font-size="27.6">90</text></g>
<g transform="translate(819.3 696.16) scale(1 1.06)" fill="#262626"><text x="-46.05" y="0" font-size="27.6">&#8199;00</text><path transform="translate(-46.05 0) scale(0.01348 -0.01348)" d="M515 0L515 1237L197 1010L197 1180L530 1409L696 1409L696 0Z"/></g>
<g transform="translate(819.3 653.45) scale(1 1.06)" fill="#262626"><text x="-46.05" y="0" font-size="27.6">&#8199;&#8199;0</text><path transform="translate(-46.05 0) scale(0.01348 -0.01348)" d="M515 0L515 1237L197 1010L197 1180L530 1409L696 1409L696 0Z"/><path transform="translate(-30.7 0) scale(0.01348 -0.01348)" d="M515 0L515 1237L197 1010L197 1180L530 1409L696 1409L696 0Z"/></g>
<rect x="849.11" y="721.96" width="12" height="12" fill="#fff"/>
<rect x="874.62" y="632.28" width="12" height="12" fill="#fff"/>
<rect x="900.13" y="628.01" width="12" height="12" fill="#fff"/>
<rect x="925.64" y="632.28" width="12" height="12" fill="#fff"/>
<rect x="951.16" y="679.26" width="12" height="12" fill="#fff"/>
<rect x="976.67" y="670.71" width="12" height="12" fill="#fff"/>
<rect x="1002.18" y="666.44" width="12" height="12" fill="#fff"/>
<rect x="1027.69" y="666.44" width="12" height="12" fill="#fff"/>
<circle cx="855.11" cy="638.28" r="8.25" fill="#fff"/>
<circle cx="880.62" cy="634.01" r="8.25" fill="#fff"/>
<circle cx="906.13" cy="638.28" r="8.25" fill="#fff"/>
<circle cx="931.64" cy="685.26" r="8.25" fill="#fff"/>
<circle cx="957.16" cy="676.71" r="8.25" fill="#fff"/>
<circle cx="982.67" cy="672.44" r="8.25" fill="#fff"/>
<circle cx="1008.18" cy="672.44" r="8.25" fill="#fff"/>
<circle cx="1033.69" cy="672.44" r="8.25" fill="#fff"/>
<path d="M862.95 636.97L872.78 635.32M888.46 635.32L898.29 636.97M909.93 645.27L927.85 678.27M939.18 682.73L949.62 679.24M965 675.4L974.83 673.76M990.62 672.44L1000.23 672.44M1016.13 672.44L1025.74 672.44" fill="none" stroke="#FA7D6E" stroke-width="2.9"/>
<path d="M856.74 722.25L879 643.99M886.33 637.33L900.43 634.97M911.84 634.97L925.94 637.33M934.76 644.02L954.04 679.52M962.87 683.34L976.95 678.63M988.37 675.76L1002.47 673.4M1013.88 672.44L1027.99 672.44" fill="none" stroke="#1C921C" stroke-width="2.9"/>
<rect x="849.11" y="721.96" width="12" height="12" fill="#178F17" fill-opacity="0.75"/>
<rect x="874.62" y="632.28" width="12" height="12" fill="#178F17" fill-opacity="0.75"/>
<rect x="900.13" y="628.01" width="12" height="12" fill="#178F17" fill-opacity="0.75"/>
<rect x="925.64" y="632.28" width="12" height="12" fill="#178F17" fill-opacity="0.75"/>
<rect x="951.16" y="679.26" width="12" height="12" fill="#178F17" fill-opacity="0.75"/>
<rect x="976.67" y="670.71" width="12" height="12" fill="#178F17" fill-opacity="0.75"/>
<rect x="1002.18" y="666.44" width="12" height="12" fill="#178F17" fill-opacity="0.75"/>
<rect x="1027.69" y="666.44" width="12" height="12" fill="#178F17" fill-opacity="0.75"/>
<circle cx="855.11" cy="638.28" r="8.25" fill="#FA7D6E" fill-opacity="0.8"/>
<circle cx="880.62" cy="634.01" r="8.25" fill="#FA7D6E" fill-opacity="0.8"/>
<circle cx="906.13" cy="638.28" r="8.25" fill="#FA7D6E" fill-opacity="0.8"/>
<circle cx="931.64" cy="685.26" r="8.25" fill="#FA7D6E" fill-opacity="0.8"/>
<circle cx="957.16" cy="676.71" r="8.25" fill="#FA7D6E" fill-opacity="0.8"/>
<circle cx="982.67" cy="672.44" r="8.25" fill="#FA7D6E" fill-opacity="0.8"/>
<circle cx="1008.18" cy="672.44" r="8.25" fill="#FA7D6E" fill-opacity="0.8"/>
<circle cx="1033.69" cy="672.44" r="8.25" fill="#FA7D6E" fill-opacity="0.8"/>
<g transform="translate(828.1 615) scale(1.02 1.07)" fill="#5F001A" stroke="#5F001A" stroke-width="0.4" stroke-linejoin="round"><text x="0" y="0" font-size="26.5" font-weight="bold">S3</text></g>
<g transform="translate(1061.9 669.5) scale(1 1.06)" fill="#1C921C"><text x="0" y="0" font-size="27.6">&#8199;03&#176;</text><path transform="translate(0 0) scale(0.01348 -0.01348)" d="M515 0L515 1237L197 1010L197 1180L530 1409L696 1409L696 0Z"/></g>
<g transform="translate(1061.9 696.2) scale(1 1.06)" fill="#FA7D6E"><text x="0" y="0" font-size="27.6">&#8199;03&#176;</text><path transform="translate(0 0) scale(0.01348 -0.01348)" d="M515 0L515 1237L197 1010L197 1180L530 1409L696 1409L696 0Z"/></g>
<path d="M830.3 890.2V881.2M830.3 774.9V783.9M881.32 890.2V881.2M881.32 774.9V783.9M932.34 890.2V881.2M932.34 774.9V783.9M983.37 890.2V881.2M983.37 774.9V783.9M1034.39 890.2V881.2M1034.39 774.9V783.9M830.3 879.72H839.3M1059.9 879.72H1050.9M830.3 827.31H839.3M1059.9 827.31H1050.9M830.3 774.9H839.3M1059.9 774.9H1050.9" stroke="#262626" stroke-width="3.0" fill="none"/>
<rect x="830.3" y="774.9" width="229.6" height="115.3" fill="none" stroke="#262626" stroke-width="3.0"/>
<g transform="translate(819.3 890.62) scale(1 1.06)" fill="#262626"><text x="-30.7" y="0" font-size="27.6">90</text></g>
<g transform="translate(819.3 838.21) scale(1 1.06)" fill="#262626"><text x="-46.05" y="0" font-size="27.6">&#8199;00</text><path transform="translate(-46.05 0) scale(0.01348 -0.01348)" d="M515 0L515 1237L197 1010L197 1180L530 1409L696 1409L696 0Z"/></g>
<g transform="translate(819.3 785.8) scale(1 1.06)" fill="#262626"><text x="-46.05" y="0" font-size="27.6">&#8199;&#8199;0</text><path transform="translate(-46.05 0) scale(0.01348 -0.01348)" d="M515 0L515 1237L197 1010L197 1180L530 1409L696 1409L696 0Z"/><path transform="translate(-30.7 0) scale(0.01348 -0.01348)" d="M515 0L515 1237L197 1010L197 1180L530 1409L696 1409L696 0Z"/></g>
<rect x="849.11" y="873.72" width="12" height="12" fill="#fff"/>
<rect x="874.62" y="795.1" width="12" height="12" fill="#fff"/>
<rect x="900.13" y="795.1" width="12" height="12" fill="#fff"/>
<rect x="925.64" y="795.1" width="12" height="12" fill="#fff"/>
<rect x="951.16" y="826.55" width="12" height="12" fill="#fff"/>
<rect x="976.67" y="816.07" width="12" height="12" fill="#fff"/>
<rect x="1002.18" y="810.83" width="12" height="12" fill="#fff"/>
<rect x="1027.69" y="810.83" width="12" height="12" fill="#fff"/>
<circle cx="855.11" cy="801.1" r="8.25" fill="#fff"/>
<circle cx="880.62" cy="801.1" r="8.25" fill="#fff"/>
<circle cx="906.13" cy="801.1" r="8.25" fill="#fff"/>
<circle cx="931.64" cy="832.55" r="8.25" fill="#fff"/>
<circle cx="957.16" cy="822.07" r="8.25" fill="#fff"/>
<circle cx="982.67" cy="816.83" r="8.25" fill="#fff"/>
<circle cx="1008.18" cy="816.83" r="8.25" fill="#fff"/>
<circle cx="1033.69" cy="816.83" r="8.25" fill="#fff"/>
<path d="M863.06 801.1L872.67 801.1M888.57 801.1L898.18 801.1M911.14 807.28L926.64 826.38M939 829.53L949.8 825.09M964.94 820.47L974.88 818.43M990.62 816.83L1000.23 816.83M1016.13 816.83L1025.74 816.83" fill="none" stroke="#FA7D6E" stroke-width="2.9"/>
<path d="M856.97 874L878.77 806.82M886.32 801.1L900.43 801.1M911.83 801.1L925.94 801.1M936.32 806.87L952.48 826.78M962.88 830.2L976.94 824.42M988.37 820.9L1002.47 818M1013.88 816.83L1027.99 816.83" fill="none" stroke="#1C921C" stroke-width="2.9"/>
<rect x="849.11" y="873.72" width="12" height="12" fill="#178F17" fill-opacity="0.75"/>
<rect x="874.62" y="795.1" width="12" height="12" fill="#178F17" fill-opacity="0.75"/>
<rect x="900.13" y="795.1" width="12" height="12" fill="#178F17" fill-opacity="0.75"/>
<rect x="925.64" y="795.1" width="12" height="12" fill="#178F17" fill-opacity="0.75"/>
<rect x="951.16" y="826.55" width="12" height="12" fill="#178F17" fill-opacity="0.75"/>
<rect x="976.67" y="816.07" width="12" height="12" fill="#178F17" fill-opacity="0.75"/>
<rect x="1002.18" y="810.83" width="12" height="12" fill="#178F17" fill-opacity="0.75"/>
<rect x="1027.69" y="810.83" width="12" height="12" fill="#178F17" fill-opacity="0.75"/>
<circle cx="855.11" cy="801.1" r="8.25" fill="#FA7D6E" fill-opacity="0.8"/>
<circle cx="880.62" cy="801.1" r="8.25" fill="#FA7D6E" fill-opacity="0.8"/>
<circle cx="906.13" cy="801.1" r="8.25" fill="#FA7D6E" fill-opacity="0.8"/>
<circle cx="931.64" cy="832.55" r="8.25" fill="#FA7D6E" fill-opacity="0.8"/>
<circle cx="957.16" cy="822.07" r="8.25" fill="#FA7D6E" fill-opacity="0.8"/>
<circle cx="982.67" cy="816.83" r="8.25" fill="#FA7D6E" fill-opacity="0.8"/>
<circle cx="1008.18" cy="816.83" r="8.25" fill="#FA7D6E" fill-opacity="0.8"/>
<circle cx="1033.69" cy="816.83" r="8.25" fill="#FA7D6E" fill-opacity="0.8"/>
<g transform="translate(828.1 768.7) scale(1.02 1.07)" fill="#5F001A" stroke="#5F001A" stroke-width="0.4" stroke-linejoin="round"><text x="0" y="0" font-size="26.5" font-weight="bold">S4</text></g>
<g transform="translate(1061.9 812.3) scale(1 1.06)" fill="#1C921C"><text x="0" y="0" font-size="27.6">&#8199;02&#176;</text><path transform="translate(0 0) scale(0.01348 -0.01348)" d="M515 0L515 1237L197 1010L197 1180L530 1409L696 1409L696 0Z"/></g>
<g transform="translate(1061.9 843.8) scale(1 1.06)" fill="#FA7D6E"><text x="0" y="0" font-size="27.6">&#8199;02&#176;</text><path transform="translate(0 0) scale(0.01348 -0.01348)" d="M515 0L515 1237L197 1010L197 1180L530 1409L696 1409L696 0Z"/></g>
<path d="M830.3 1043.9V1034.9M830.3 928.6V937.6M881.32 1043.9V1034.9M881.32 928.6V937.6M932.34 1043.9V1034.9M932.34 928.6V937.6M983.37 1043.9V1034.9M983.37 928.6V937.6M1034.39 1043.9V1034.9M1034.39 928.6V937.6M830.3 1033.42H839.3M1059.9 1033.42H1050.9M830.3 981.01H839.3M1059.9 981.01H1050.9M830.3 928.6H839.3M1059.9 928.6H1050.9" stroke="#262626" stroke-width="3.0" fill="none"/>
<rect x="830.3" y="928.6" width="229.6" height="115.3" fill="none" stroke="#262626" stroke-width="3.0"/>
<g transform="translate(819.3 1044.32) scale(1 1.06)" fill="#262626"><text x="-30.7" y="0" font-size="27.6">90</text></g>
<g transform="translate(819.3 991.91) scale(1 1.06)" fill="#262626"><text x="-46.05" y="0" font-size="27.6">&#8199;00</text><path transform="translate(-46.05 0) scale(0.01348 -0.01348)" d="M515 0L515 1237L197 1010L197 1180L530 1409L696 1409L696 0Z"/></g>
<g transform="translate(819.3 939.5) scale(1 1.06)" fill="#262626"><text x="-46.05" y="0" font-size="27.6">&#8199;&#8199;0</text><path transform="translate(-46.05 0) scale(0.01348 -0.01348)" d="M515 0L515 1237L197 1010L197 1180L530 1409L696 1409L696 0Z"/><path transform="translate(-30.7 0) scale(0.01348 -0.01348)" d="M515 0L515 1237L197 1010L197 1180L530 1409L696 1409L696 0Z"/></g>
<rect x="849.11" y="1027.42" width="12" height="12" fill="#fff"/>
<rect x="874.62" y="959.29" width="12" height="12" fill="#fff"/>
<rect x="900.13" y="969.77" width="12" height="12" fill="#fff"/>
<rect x="925.64" y="969.77" width="12" height="12" fill="#fff"/>
<rect x="951.16" y="985.49" width="12" height="12" fill="#fff"/>
<rect x="976.67" y="969.77" width="12" height="12" fill="#fff"/>
<rect x="1002.18" y="969.77" width="12" height="12" fill="#fff"/>
<rect x="1027.69" y="969.77" width="12" height="12" fill="#fff"/>
<circle cx="855.11" cy="965.29" r="8.25" fill="#fff"/>
<circle cx="880.62" cy="975.77" r="8.25" fill="#fff"/>
<circle cx="906.13" cy="975.77" r="8.25" fill="#fff"/>
<circle cx="931.64" cy="991.49" r="8.25" fill="#fff"/>
<circle cx="957.16" cy="975.77" r="8.25" fill="#fff"/>
<circle cx="982.67" cy="975.77" r="8.25" fill="#fff"/>
<circle cx="1008.18" cy="975.77" r="8.25" fill="#fff"/>
<circle cx="1033.69" cy="975.77" r="8.25" fill="#fff"/>
<path d="M862.46 968.31L873.27 972.75M888.57 975.77L898.18 975.77M912.9 979.94L924.88 987.32M938.41 987.32L950.39 979.94M965.11 975.77L974.72 975.77M990.62 975.77L1000.23 975.77M1016.13 975.77L1025.74 975.77" fill="none" stroke="#FA7D6E" stroke-width="2.9"/>
<path d="M857.25 1027.7L878.48 971.01M886.34 967.64L900.41 973.42M911.83 975.77L925.94 975.77M937.39 979.31L951.41 987.95M962.9 987.95L976.92 979.31M988.37 975.77L1002.48 975.77M1013.88 975.77L1027.99 975.77" fill="none" stroke="#1C921C" stroke-width="2.9"/>
<rect x="849.11" y="1027.42" width="12" height="12" fill="#178F17" fill-opacity="0.75"/>
<rect x="874.62" y="959.29" width="12" height="12" fill="#178F17" fill-opacity="0.75"/>
<rect x="900.13" y="969.77" width="12" height="12" fill="#178F17" fill-opacity="0.75"/>
<rect x="925.64" y="969.77" width="12" height="12" fill="#178F17" fill-opacity="0.75"/>
<rect x="951.16" y="985.49" width="12" height="12" fill="#178F17" fill-opacity="0.75"/>
<rect x="976.67" y="969.77" width="12" height="12" fill="#178F17" fill-opacity="0.75"/>
<rect x="1002.18" y="969.77" width="12" height="12" fill="#178F17" fill-opacity="0.75"/>
<rect x="1027.69" y="969.77" width="12" height="12" fill="#178F17" fill-opacity="0.75"/>
<circle cx="855.11" cy="965.29" r="8.25" fill="#FA7D6E" fill-opacity="0.8"/>
<circle cx="880.62" cy="975.77" r="8.25" fill="#FA7D6E" fill-opacity="0.8"/>
<circle cx="906.13" cy="975.77" r="8.25" fill="#FA7D6E" fill-opacity="0.8"/>
<circle cx="931.64" cy="991.49" r="8.25" fill="#FA7D6E" fill-opacity="0.8"/>
<circle cx="957.16" cy="975.77" r="8.25" fill="#FA7D6E" fill-opacity="0.8"/>
<circle cx="982.67" cy="975.77" r="8.25" fill="#FA7D6E" fill-opacity="0.8"/>
<circle cx="1008.18" cy="975.77" r="8.25" fill="#FA7D6E" fill-opacity="0.8"/>
<circle cx="1033.69" cy="975.77" r="8.25" fill="#FA7D6E" fill-opacity="0.8"/>
<g transform="translate(828.1 922.4) scale(1.02 1.07)" fill="#5F001A" stroke="#5F001A" stroke-width="0.4" stroke-linejoin="round"><text x="0" y="0" font-size="26.5" font-weight="bold">S5</text></g>
<g transform="translate(1061.9 969.9) scale(1 1.06)" fill="#1C921C"><text x="0" y="0" font-size="27.6">&#8199;0&#8199;&#176;</text><path transform="translate(0 0) scale(0.01348 -0.01348)" d="M515 0L515 1237L197 1010L197 1180L530 1409L696 1409L696 0Z"/><path transform="translate(30.7 0) scale(0.01348 -0.01348)" d="M515 0L515 1237L197 1010L197 1180L530 1409L696 1409L696 0Z"/></g>
<g transform="translate(1061.9 1001.4) scale(1 1.06)" fill="#FA7D6E"><text x="0" y="0" font-size="27.6">&#8199;0&#8199;&#176;</text><path transform="translate(0 0) scale(0.01348 -0.01348)" d="M515 0L515 1237L197 1010L197 1180L530 1409L696 1409L696 0Z"/><path transform="translate(30.7 0) scale(0.01348 -0.01348)" d="M515 0L515 1237L197 1010L197 1180L530 1409L696 1409L696 0Z"/></g>
<path d="M830.3 1197.6V1188.6M830.3 1082.3V1091.3M881.32 1197.6V1188.6M881.32 1082.3V1091.3M932.34 1197.6V1188.6M932.34 1082.3V1091.3M983.37 1197.6V1188.6M983.37 1082.3V1091.3M1034.39 1197.6V1188.6M1034.39 1082.3V1091.3M830.3 1197.6H839.3M1059.9 1197.6H1050.9M830.3 1164.66H839.3M1059.9 1164.66H1050.9M830.3 1131.71H839.3M1059.9 1131.71H1050.9M830.3 1098.77H839.3M1059.9 1098.77H1050.9" stroke="#262626" stroke-width="3.0" fill="none"/>
<rect x="830.3" y="1082.3" width="229.6" height="115.3" fill="none" stroke="#262626" stroke-width="3.0"/>
<g transform="translate(819.3 1208.5) scale(1 1.06)" fill="#262626"><text x="-30.7" y="0" font-size="27.6">70</text></g>
<g transform="translate(819.3 1175.56) scale(1 1.06)" fill="#262626"><text x="-30.7" y="0" font-size="27.6">80</text></g>
<g transform="translate(819.3 1142.61) scale(1 1.06)" fill="#262626"><text x="-30.7" y="0" font-size="27.6">90</text></g>
<g transform="translate(819.3 1109.67) scale(1 1.06)" fill="#262626"><text x="-46.05" y="0" font-size="27.6">&#8199;00</text><path transform="translate(-46.05 0) scale(0.01348 -0.01348)" d="M515 0L515 1237L197 1010L197 1180L530 1409L696 1409L696 0Z"/></g>
<rect x="849.11" y="1125.71" width="12" height="12" fill="#fff"/>
<rect x="874.62" y="1092.77" width="12" height="12" fill="#fff"/>
<rect x="900.13" y="1096.07" width="12" height="12" fill="#fff"/>
<rect x="925.64" y="1092.77" width="12" height="12" fill="#fff"/>
<rect x="951.16" y="1165.25" width="12" height="12" fill="#fff"/>
<rect x="976.67" y="1148.77" width="12" height="12" fill="#fff"/>
<rect x="1002.18" y="1152.07" width="12" height="12" fill="#fff"/>
<rect x="1027.69" y="1152.07" width="12" height="12" fill="#fff"/>
<circle cx="855.11" cy="1098.77" r="8.25" fill="#fff"/>
<circle cx="880.62" cy="1102.07" r="8.25" fill="#fff"/>
<circle cx="906.13" cy="1098.77" r="8.25" fill="#fff"/>
<circle cx="931.64" cy="1171.25" r="8.25" fill="#fff"/>
<circle cx="957.16" cy="1154.77" r="8.25" fill="#fff"/>
<circle cx="982.67" cy="1158.07" r="8.25" fill="#fff"/>
<circle cx="1008.18" cy="1158.07" r="8.25" fill="#fff"/>
<circle cx="1033.69" cy="1158.07" r="8.25" fill="#fff"/>
<path d="M863 1099.79L872.74 1101.05M888.51 1101.05L898.25 1099.79M908.77 1106.27L929 1163.75M938.32 1166.93L950.48 1159.09M965.04 1155.79L974.78 1157.05M990.62 1158.07L1000.23 1158.07M1016.13 1158.07L1025.74 1158.07" fill="none" stroke="#FA7D6E" stroke-width="2.9"/>
<path d="M859.57 1125.95L876.16 1104.53M886.32 1099.51L900.43 1101.33M911.84 1101.33L925.94 1099.51M933.66 1104.49L955.14 1165.53M962.9 1167.53L976.92 1158.49M988.37 1155.51L1002.48 1157.33M1013.88 1158.07L1027.99 1158.07" fill="none" stroke="#1C921C" stroke-width="2.9"/>
<rect x="849.11" y="1125.71" width="12" height="12" fill="#178F17" fill-opacity="0.75"/>
<rect x="874.62" y="1092.77" width="12" height="12" fill="#178F17" fill-opacity="0.75"/>
<rect x="900.13" y="1096.07" width="12" height="12" fill="#178F17" fill-opacity="0.75"/>
<rect x="925.64" y="1092.77" width="12" height="12" fill="#178F17" fill-opacity="0.75"/>
<rect x="951.16" y="1165.25" width="12" height="12" fill="#178F17" fill-opacity="0.75"/>
<rect x="976.67" y="1148.77" width="12" height="12" fill="#178F17" fill-opacity="0.75"/>
<rect x="1002.18" y="1152.07" width="12" height="12" fill="#178F17" fill-opacity="0.75"/>
<rect x="1027.69" y="1152.07" width="12" height="12" fill="#178F17" fill-opacity="0.75"/>
<circle cx="855.11" cy="1098.77" r="8.25" fill="#FA7D6E" fill-opacity="0.8"/>
<circle cx="880.62" cy="1102.07" r="8.25" fill="#FA7D6E" fill-opacity="0.8"/>
<circle cx="906.13" cy="1098.77" r="8.25" fill="#FA7D6E" fill-opacity="0.8"/>
<circle cx="931.64" cy="1171.25" r="8.25" fill="#FA7D6E" fill-opacity="0.8"/>
<circle cx="957.16" cy="1154.77" r="8.25" fill="#FA7D6E" fill-opacity="0.8"/>
<circle cx="982.67" cy="1158.07" r="8.25" fill="#FA7D6E" fill-opacity="0.8"/>
<circle cx="1008.18" cy="1158.07" r="8.25" fill="#FA7D6E" fill-opacity="0.8"/>
<circle cx="1033.69" cy="1158.07" r="8.25" fill="#FA7D6E" fill-opacity="0.8"/>
<g transform="translate(828.1 1076.1) scale(1.02 1.07)" fill="#5F001A" stroke="#5F001A" stroke-width="0.4" stroke-linejoin="round"><text x="0" y="0" font-size="26.5" font-weight="bold">S6</text></g>
<g transform="translate(1061.9 1154.4) scale(1 1.06)" fill="#1C921C"><text x="0" y="0" font-size="27.6">82&#176;</text></g>
<g transform="translate(1061.9 1180.4) scale(1 1.06)" fill="#FA7D6E"><text x="0" y="0" font-size="27.6">82&#176;</text></g>
<path d="M830.3 1351.3V1342.3M830.3 1236V1245M881.32 1351.3V1342.3M881.32 1236V1245M932.34 1351.3V1342.3M932.34 1236V1245M983.37 1351.3V1342.3M983.37 1236V1245M1034.39 1351.3V1342.3M1034.39 1236V1245M830.3 1351.3H839.3M1059.9 1351.3H1050.9M830.3 1268.94H839.3M1059.9 1268.94H1050.9" stroke="#262626" stroke-width="3.0" fill="none"/>
<rect x="830.3" y="1236" width="229.6" height="115.3" fill="none" stroke="#262626" stroke-width="3.0"/>
<g transform="translate(819.3 1362.2) scale(1 1.06)" fill="#262626"><text x="-30.7" y="0" font-size="27.6">85</text></g>
<g transform="translate(819.3 1279.84) scale(1 1.06)" fill="#262626"><text x="-30.7" y="0" font-size="27.6">90</text></g>
<g transform="translate(830.3 1384.9) scale(1 1.06)" fill="#262626"><text x="-7.67" y="0" font-size="27.6">0</text></g>
<g transform="translate(881.32 1384.9) scale(1 1.06)" fill="#262626"><text x="-7.67" y="0" font-size="27.6">2</text></g>
<g transform="translate(932.34 1384.9) scale(1 1.06)" fill="#262626"><text x="-7.67" y="0" font-size="27.6">4</text></g>
<g transform="translate(983.37 1384.9) scale(1 1.06)" fill="#262626"><text x="-7.67" y="0" font-size="27.6">6</text></g>
<g transform="translate(1034.39 1384.9) scale(1 1.06)" fill="#262626"><text x="-7.67" y="0" font-size="27.6">8</text></g>
<rect x="849.11" y="1262.94" width="12" height="12" fill="#fff"/>
<rect x="874.62" y="1262.94" width="12" height="12" fill="#fff"/>
<rect x="900.13" y="1279.41" width="12" height="12" fill="#fff"/>
<rect x="925.64" y="1279.41" width="12" height="12" fill="#fff"/>
<rect x="951.16" y="1279.41" width="12" height="12" fill="#fff"/>
<rect x="976.67" y="1279.41" width="12" height="12" fill="#fff"/>
<rect x="1002.18" y="1279.41" width="12" height="12" fill="#fff"/>
<rect x="1027.69" y="1279.41" width="12" height="12" fill="#fff"/>
<circle cx="855.11" cy="1268.94" r="8.25" fill="#fff"/>
<circle cx="880.62" cy="1285.41" r="8.25" fill="#fff"/>
<circle cx="906.13" cy="1285.41" r="8.25" fill="#fff"/>
<circle cx="931.64" cy="1285.41" r="8.25" fill="#fff"/>
<circle cx="957.16" cy="1285.41" r="8.25" fill="#fff"/>
<circle cx="982.67" cy="1285.41" r="8.25" fill="#fff"/>
<circle cx="1008.18" cy="1285.41" r="8.25" fill="#fff"/>
<circle cx="1033.69" cy="1285.41" r="8.25" fill="#fff"/>
<path d="M861.79 1273.26L873.94 1281.1M888.57 1285.41L898.18 1285.41M914.08 1285.41L923.69 1285.41M939.59 1285.41L949.21 1285.41M965.11 1285.41L974.72 1285.41M990.62 1285.41L1000.23 1285.41M1016.13 1285.41L1025.74 1285.41" fill="none" stroke="#FA7D6E" stroke-width="2.9"/>
<path d="M860.81 1268.94L874.92 1268.94M886.37 1272.65L900.39 1281.7M911.83 1285.41L925.94 1285.41M937.34 1285.41L951.46 1285.41M962.86 1285.41L976.97 1285.41M988.37 1285.41L1002.48 1285.41M1013.88 1285.41L1027.99 1285.41" fill="none" stroke="#1C921C" stroke-width="2.9"/>
<rect x="849.11" y="1262.94" width="12" height="12" fill="#178F17" fill-opacity="0.75"/>
<rect x="874.62" y="1262.94" width="12" height="12" fill="#178F17" fill-opacity="0.75"/>
<rect x="900.13" y="1279.41" width="12" height="12" fill="#178F17" fill-opacity="0.75"/>
<rect x="925.64" y="1279.41" width="12" height="12" fill="#178F17" fill-opacity="0.75"/>
<rect x="951.16" y="1279.41" width="12" height="12" fill="#178F17" fill-opacity="0.75"/>
<rect x="976.67" y="1279.41" width="12" height="12" fill="#178F17" fill-opacity="0.75"/>
<rect x="1002.18" y="1279.41" width="12" height="12" fill="#178F17" fill-opacity="0.75"/>
<rect x="1027.69" y="1279.41" width="12" height="12" fill="#178F17" fill-opacity="0.75"/>
<circle cx="855.11" cy="1268.94" r="8.25" fill="#FA7D6E" fill-opacity="0.8"/>
<circle cx="880.62" cy="1285.41" r="8.25" fill="#FA7D6E" fill-opacity="0.8"/>
<circle cx="906.13" cy="1285.41" r="8.25" fill="#FA7D6E" fill-opacity="0.8"/>
<circle cx="931.64" cy="1285.41" r="8.25" fill="#FA7D6E" fill-opacity="0.8"/>
<circle cx="957.16" cy="1285.41" r="8.25" fill="#FA7D6E" fill-opacity="0.8"/>
<circle cx="982.67" cy="1285.41" r="8.25" fill="#FA7D6E" fill-opacity="0.8"/>
<circle cx="1008.18" cy="1285.41" r="8.25" fill="#FA7D6E" fill-opacity="0.8"/>
<circle cx="1033.69" cy="1285.41" r="8.25" fill="#FA7D6E" fill-opacity="0.8"/>
<g transform="translate(828.1 1229.8) scale(1.02 1.07)" fill="#5F001A" stroke="#5F001A" stroke-width="0.4" stroke-linejoin="round"><text x="0" y="0" font-size="26.5" font-weight="bold">S7</text></g>
<g transform="translate(1061.9 1279.5) scale(1 1.06)" fill="#1C921C"><text x="0" y="0" font-size="27.6">89&#176;</text></g>
<g transform="translate(1061.9 1312.6) scale(1 1.06)" fill="#FA7D6E"><text x="0" y="0" font-size="27.6">89&#176;</text></g>
<path d="M1175.3 429.1V420.1M1175.3 313.8V322.8M1226.48 429.1V420.1M1226.48 313.8V322.8M1277.66 429.1V420.1M1277.66 313.8V322.8M1328.83 429.1V420.1M1328.83 313.8V322.8M1380.01 429.1V420.1M1380.01 313.8V322.8M1175.3 409.88H1184.3M1405.6 409.88H1396.6M1175.3 361.84H1184.3M1405.6 361.84H1396.6M1175.3 313.8H1184.3M1405.6 313.8H1396.6" stroke="#262626" stroke-width="3.0" fill="none"/>
<rect x="1175.3" y="313.8" width="230.3" height="115.3" fill="none" stroke="#262626" stroke-width="3.0"/>
<g transform="translate(1164.3 420.78) scale(1 1.06)" fill="#262626"><text x="-30.7" y="0" font-size="27.6">90</text></g>
<g transform="translate(1164.3 372.74) scale(1 1.06)" fill="#262626"><text x="-30.7" y="0" font-size="27.6">95</text></g>
<g transform="translate(1164.3 324.7) scale(1 1.06)" fill="#262626"><text x="-46.05" y="0" font-size="27.6">&#8199;00</text><path transform="translate(-46.05 0) scale(0.01348 -0.01348)" d="M515 0L515 1237L197 1010L197 1180L530 1409L696 1409L696 0Z"/></g>
<rect x="1194.19" y="403.88" width="12" height="12" fill="#fff"/>
<rect x="1219.78" y="336.62" width="12" height="12" fill="#fff"/>
<rect x="1245.37" y="336.62" width="12" height="12" fill="#fff"/>
<rect x="1270.96" y="336.62" width="12" height="12" fill="#fff"/>
<rect x="1296.54" y="327.02" width="12" height="12" fill="#fff"/>
<rect x="1322.13" y="327.02" width="12" height="12" fill="#fff"/>
<rect x="1347.72" y="336.62" width="12" height="12" fill="#fff"/>
<rect x="1373.31" y="336.62" width="12" height="12" fill="#fff"/>
<circle cx="1200.19" cy="342.62" r="8.25" fill="#fff"/>
<circle cx="1225.78" cy="342.62" r="8.25" fill="#fff"/>
<circle cx="1251.37" cy="342.62" r="8.25" fill="#fff"/>
<circle cx="1276.96" cy="333.02" r="8.25" fill="#fff"/>
<circle cx="1302.54" cy="333.02" r="8.25" fill="#fff"/>
<circle cx="1328.13" cy="342.62" r="8.25" fill="#fff"/>
<circle cx="1353.72" cy="342.62" r="8.25" fill="#fff"/>
<circle cx="1379.31" cy="342.62" r="8.25" fill="#fff"/>
<path d="M1208.14 342.62L1217.83 342.62M1233.73 342.62L1243.42 342.62M1258.81 339.83L1269.51 335.81M1284.91 333.02L1294.59 333.02M1309.99 335.81L1320.69 339.83M1336.08 342.62L1345.77 342.62M1361.67 342.62L1371.36 342.62" fill="none" stroke="#FA7D6E" stroke-width="2.9"/>
<path d="M1202.36 404.16L1223.6 348.34M1231.48 342.62L1245.67 342.62M1257.07 342.62L1271.26 342.62M1282.67 340.48L1296.83 335.16M1308.24 333.02L1322.43 333.02M1333.85 335.16L1348 340.48M1359.42 342.62L1373.61 342.62" fill="none" stroke="#1C921C" stroke-width="2.9"/>
<rect x="1194.19" y="403.88" width="12" height="12" fill="#178F17" fill-opacity="0.75"/>
<rect x="1219.78" y="336.62" width="12" height="12" fill="#178F17" fill-opacity="0.75"/>
<rect x="1245.37" y="336.62" width="12" height="12" fill="#178F17" fill-opacity="0.75"/>
<rect x="1270.96" y="336.62" width="12" height="12" fill="#178F17" fill-opacity="0.75"/>
<rect x="1296.54" y="327.02" width="12" height="12" fill="#178F17" fill-opacity="0.75"/>
<rect x="1322.13" y="327.02" width="12" height="12" fill="#178F17" fill-opacity="0.75"/>
<rect x="1347.72" y="336.62" width="12" height="12" fill="#178F17" fill-opacity="0.75"/>
<rect x="1373.31" y="336.62" width="12" height="12" fill="#178F17" fill-opacity="0.75"/>
<circle cx="1200.19" cy="342.62" r="8.25" fill="#FA7D6E" fill-opacity="0.8"/>
<circle cx="1225.78" cy="342.62" r="8.25" fill="#FA7D6E" fill-opacity="0.8"/>
<circle cx="1251.37" cy="342.62" r="8.25" fill="#FA7D6E" fill-opacity="0.8"/>
<circle cx="1276.96" cy="333.02" r="8.25" fill="#FA7D6E" fill-opacity="0.8"/>
<circle cx="1302.54" cy="333.02" r="8.25" fill="#FA7D6E" fill-opacity="0.8"/>
<circle cx="1328.13" cy="342.62" r="8.25" fill="#FA7D6E" fill-opacity="0.8"/>
<circle cx="1353.72" cy="342.62" r="8.25" fill="#FA7D6E" fill-opacity="0.8"/>
<circle cx="1379.31" cy="342.62" r="8.25" fill="#FA7D6E" fill-opacity="0.8"/>
<g transform="translate(1173.1 307.6) scale(1.02 1.07)" fill="#5F001A" stroke="#5F001A" stroke-width="0.4" stroke-linejoin="round"><text x="0" y="0" font-size="26.5" font-weight="bold">S8</text></g>
<g transform="translate(1407.6 338.8) scale(1 1.06)" fill="#1C921C"><text x="0" y="0" font-size="27.6">97&#176;</text></g>
<g transform="translate(1407.6 367.7) scale(1 1.06)" fill="#FA7D6E"><text x="0" y="0" font-size="27.6">97&#176;</text></g>
<path d="M1175.3 582.8V573.8M1175.3 467.5V476.5M1226.48 582.8V573.8M1226.48 467.5V476.5M1277.66 582.8V573.8M1277.66 467.5V476.5M1328.83 582.8V573.8M1328.83 467.5V476.5M1380.01 582.8V573.8M1380.01 467.5V476.5M1175.3 582.8H1184.3M1405.6 582.8H1396.6M1175.3 538.45H1184.3M1405.6 538.45H1396.6M1175.3 494.11H1184.3M1405.6 494.11H1396.6" stroke="#262626" stroke-width="3.0" fill="none"/>
<rect x="1175.3" y="467.5" width="230.3" height="115.3" fill="none" stroke="#262626" stroke-width="3.0"/>
<g transform="translate(1164.3 593.7) scale(1 1.06)" fill="#262626"><text x="-30.7" y="0" font-size="27.6">80</text></g>
<g transform="translate(1164.3 549.35) scale(1 1.06)" fill="#262626"><text x="-30.7" y="0" font-size="27.6">85</text></g>
<g transform="translate(1164.3 505.01) scale(1 1.06)" fill="#262626"><text x="-30.7" y="0" font-size="27.6">90</text></g>
<rect x="1194.19" y="488.11" width="12" height="12" fill="#fff"/>
<rect x="1219.78" y="532.45" width="12" height="12" fill="#fff"/>
<rect x="1245.37" y="532.45" width="12" height="12" fill="#fff"/>
<rect x="1270.96" y="532.45" width="12" height="12" fill="#fff"/>
<rect x="1296.54" y="541.32" width="12" height="12" fill="#fff"/>
<rect x="1322.13" y="532.45" width="12" height="12" fill="#fff"/>
<rect x="1347.72" y="541.32" width="12" height="12" fill="#fff"/>
<rect x="1373.31" y="532.45" width="12" height="12" fill="#fff"/>
<circle cx="1200.19" cy="538.45" r="8.25" fill="#fff"/>
<circle cx="1225.78" cy="538.45" r="8.25" fill="#fff"/>
<circle cx="1251.37" cy="538.45" r="8.25" fill="#fff"/>
<circle cx="1276.96" cy="547.32" r="8.25" fill="#fff"/>
<circle cx="1302.54" cy="538.45" r="8.25" fill="#fff"/>
<circle cx="1328.13" cy="547.32" r="8.25" fill="#fff"/>
<circle cx="1353.72" cy="538.45" r="8.25" fill="#fff"/>
<circle cx="1379.31" cy="547.32" r="8.25" fill="#fff"/>
<path d="M1208.14 538.45L1217.83 538.45M1233.73 538.45L1243.42 538.45M1258.88 541.06L1269.44 544.72M1284.47 544.72L1295.03 541.06M1310.06 541.06L1320.62 544.72M1335.64 544.72L1346.21 541.06M1361.23 541.06L1371.8 544.72" fill="none" stroke="#FA7D6E" stroke-width="2.9"/>
<path d="M1203.5 499.85L1222.47 532.71M1231.48 538.45L1245.67 538.45M1257.07 538.45L1271.26 538.45M1282.67 540.44L1296.83 545.34M1308.26 545.34L1322.42 540.44M1333.85 540.44L1348.01 545.34M1359.44 545.34L1373.59 540.44" fill="none" stroke="#1C921C" stroke-width="2.9"/>
<rect x="1194.19" y="488.11" width="12" height="12" fill="#178F17" fill-opacity="0.75"/>
<rect x="1219.78" y="532.45" width="12" height="12" fill="#178F17" fill-opacity="0.75"/>
<rect x="1245.37" y="532.45" width="12" height="12" fill="#178F17" fill-opacity="0.75"/>
<rect x="1270.96" y="532.45" width="12" height="12" fill="#178F17" fill-opacity="0.75"/>
<rect x="1296.54" y="541.32" width="12" height="12" fill="#178F17" fill-opacity="0.75"/>
<rect x="1322.13" y="532.45" width="12" height="12" fill="#178F17" fill-opacity="0.75"/>
<rect x="1347.72" y="541.32" width="12" height="12" fill="#178F17" fill-opacity="0.75"/>
<rect x="1373.31" y="532.45" width="12" height="12" fill="#178F17" fill-opacity="0.75"/>
<circle cx="1200.19" cy="538.45" r="8.25" fill="#FA7D6E" fill-opacity="0.8"/>
<circle cx="1225.78" cy="538.45" r="8.25" fill="#FA7D6E" fill-opacity="0.8"/>
<circle cx="1251.37" cy="538.45" r="8.25" fill="#FA7D6E" fill-opacity="0.8"/>
<circle cx="1276.96" cy="547.32" r="8.25" fill="#FA7D6E" fill-opacity="0.8"/>
<circle cx="1302.54" cy="538.45" r="8.25" fill="#FA7D6E" fill-opacity="0.8"/>
<circle cx="1328.13" cy="547.32" r="8.25" fill="#FA7D6E" fill-opacity="0.8"/>
<circle cx="1353.72" cy="538.45" r="8.25" fill="#FA7D6E" fill-opacity="0.8"/>
<circle cx="1379.31" cy="547.32" r="8.25" fill="#FA7D6E" fill-opacity="0.8"/>
<g transform="translate(1173.1 461.3) scale(1.02 1.07)" fill="#5F001A" stroke="#5F001A" stroke-width="0.4" stroke-linejoin="round"><text x="0" y="0" font-size="26.5" font-weight="bold">S9</text></g>
<g transform="translate(1407.6 535.8) scale(1 1.06)" fill="#1C921C"><text x="0" y="0" font-size="27.6">85&#176;</text></g>
<g transform="translate(1407.6 561.6) scale(1 1.06)" fill="#FA7D6E"><text x="0" y="0" font-size="27.6">84&#176;</text></g>
<path d="M1175.3 736.5V727.5M1175.3 621.2V630.2M1226.48 736.5V727.5M1226.48 621.2V630.2M1277.66 736.5V727.5M1277.66 621.2V630.2M1328.83 736.5V727.5M1328.83 621.2V630.2M1380.01 736.5V727.5M1380.01 621.2V630.2M1175.3 736.5H1184.3M1405.6 736.5H1396.6M1175.3 694.57H1184.3M1405.6 694.57H1396.6M1175.3 652.65H1184.3M1405.6 652.65H1396.6" stroke="#262626" stroke-width="3.0" fill="none"/>
<rect x="1175.3" y="621.2" width="230.3" height="115.3" fill="none" stroke="#262626" stroke-width="3.0"/>
<g transform="translate(1164.3 747.4) scale(1 1.06)" fill="#262626"><text x="-30.7" y="0" font-size="27.6">40</text></g>
<g transform="translate(1164.3 705.47) scale(1 1.06)" fill="#262626"><text x="-30.7" y="0" font-size="27.6">60</text></g>
<g transform="translate(1164.3 663.55) scale(1 1.06)" fill="#262626"><text x="-30.7" y="0" font-size="27.6">80</text></g>
<rect x="1194.19" y="625.68" width="12" height="12" fill="#fff"/>
<rect x="1219.78" y="699.05" width="12" height="12" fill="#fff"/>
<rect x="1245.37" y="703.25" width="12" height="12" fill="#fff"/>
<rect x="1270.96" y="705.34" width="12" height="12" fill="#fff"/>
<rect x="1296.54" y="705.34" width="12" height="12" fill="#fff"/>
<rect x="1322.13" y="705.34" width="12" height="12" fill="#fff"/>
<rect x="1347.72" y="705.34" width="12" height="12" fill="#fff"/>
<rect x="1373.31" y="705.34" width="12" height="12" fill="#fff"/>
<circle cx="1200.19" cy="705.05" r="8.25" fill="#fff"/>
<circle cx="1225.78" cy="709.25" r="8.25" fill="#fff"/>
<circle cx="1251.37" cy="711.34" r="8.25" fill="#fff"/>
<circle cx="1276.96" cy="711.34" r="8.25" fill="#fff"/>
<circle cx="1302.54" cy="711.34" r="8.25" fill="#fff"/>
<circle cx="1328.13" cy="711.34" r="8.25" fill="#fff"/>
<circle cx="1353.72" cy="711.34" r="8.25" fill="#fff"/>
<circle cx="1379.31" cy="711.34" r="8.25" fill="#fff"/>
<path d="M1208.03 706.34L1217.93 707.96M1233.7 709.9L1243.44 710.69M1259.32 711.34L1269.01 711.34M1284.91 711.34L1294.59 711.34M1310.49 711.34L1320.18 711.34M1336.08 711.34L1345.77 711.34M1361.67 711.34L1371.36 711.34" fill="none" stroke="#FA7D6E" stroke-width="2.9"/>
<path d="M1202.18 637.4L1223.78 699.34M1231.48 705.99L1245.66 708.31M1257.07 709.71L1271.25 710.88M1282.66 711.34L1296.84 711.34M1308.24 711.34L1322.43 711.34M1333.83 711.34L1348.02 711.34M1359.42 711.34L1373.61 711.34" fill="none" stroke="#1C921C" stroke-width="2.9"/>
<rect x="1194.19" y="625.68" width="12" height="12" fill="#178F17" fill-opacity="0.75"/>
<rect x="1219.78" y="699.05" width="12" height="12" fill="#178F17" fill-opacity="0.75"/>
<rect x="1245.37" y="703.25" width="12" height="12" fill="#178F17" fill-opacity="0.75"/>
<rect x="1270.96" y="705.34" width="12" height="12" fill="#178F17" fill-opacity="0.75"/>
<rect x="1296.54" y="705.34" width="12" height="12" fill="#178F17" fill-opacity="0.75"/>
<rect x="1322.13" y="705.34" width="12" height="12" fill="#178F17" fill-opacity="0.75"/>
<rect x="1347.72" y="705.34" width="12" height="12" fill="#178F17" fill-opacity="0.75"/>
<rect x="1373.31" y="705.34" width="12" height="12" fill="#178F17" fill-opacity="0.75"/>
<circle cx="1200.19" cy="705.05" r="8.25" fill="#FA7D6E" fill-opacity="0.8"/>
<circle cx="1225.78" cy="709.25" r="8.25" fill="#FA7D6E" fill-opacity="0.8"/>
<circle cx="1251.37" cy="711.34" r="8.25" fill="#FA7D6E" fill-opacity="0.8"/>
<circle cx="1276.96" cy="711.34" r="8.25" fill="#FA7D6E" fill-opacity="0.8"/>
<circle cx="1302.54" cy="711.34" r="8.25" fill="#FA7D6E" fill-opacity="0.8"/>
<circle cx="1328.13" cy="711.34" r="8.25" fill="#FA7D6E" fill-opacity="0.8"/>
<circle cx="1353.72" cy="711.34" r="8.25" fill="#FA7D6E" fill-opacity="0.8"/>
<circle cx="1379.31" cy="711.34" r="8.25" fill="#FA7D6E" fill-opacity="0.8"/>
<g transform="translate(1173.1 615) scale(1.02 1.07)" fill="#003BB5" stroke="#003BB5" stroke-width="0.4" stroke-linejoin="round"><text x="0" y="0" font-size="26.5" font-weight="bold">S&#8199;0</text><path transform="translate(17.68 0) scale(0.01294 -0.01294)" d="M478 0L478 1170L140 959L140 1180L493 1409L759 1409L759 0Z"/></g>
<g transform="translate(1407.6 714.3) scale(1 1.06)" fill="#1C921C"><text x="0" y="0" font-size="27.6">52&#176;</text></g>
<g transform="translate(1407.6 725.2) scale(1 1.06)" fill="#FA7D6E"><text x="0" y="0" font-size="27.6">52&#176;</text></g>
<path d="M1175.3 890.2V881.2M1175.3 774.9V783.9M1226.48 890.2V881.2M1226.48 774.9V783.9M1277.66 890.2V881.2M1277.66 774.9V783.9M1328.83 890.2V881.2M1328.83 774.9V783.9M1380.01 890.2V881.2M1380.01 774.9V783.9M1175.3 890.2H1184.3M1405.6 890.2H1396.6M1175.3 842.16H1184.3M1405.6 842.16H1396.6M1175.3 794.12H1184.3M1405.6 794.12H1396.6" stroke="#262626" stroke-width="3.0" fill="none"/>
<rect x="1175.3" y="774.9" width="230.3" height="115.3" fill="none" stroke="#262626" stroke-width="3.0"/>
<g transform="translate(1164.3 901.1) scale(1 1.06)" fill="#262626"><text x="-30.7" y="0" font-size="27.6">80</text></g>
<g transform="translate(1164.3 853.06) scale(1 1.06)" fill="#262626"><text x="-30.7" y="0" font-size="27.6">85</text></g>
<g transform="translate(1164.3 805.02) scale(1 1.06)" fill="#262626"><text x="-30.7" y="0" font-size="27.6">90</text></g>
<rect x="1194.19" y="788.12" width="12" height="12" fill="#fff"/>
<rect x="1219.78" y="845.77" width="12" height="12" fill="#fff"/>
<rect x="1245.37" y="816.94" width="12" height="12" fill="#fff"/>
<rect x="1270.96" y="836.16" width="12" height="12" fill="#fff"/>
<rect x="1296.54" y="826.55" width="12" height="12" fill="#fff"/>
<rect x="1322.13" y="826.55" width="12" height="12" fill="#fff"/>
<rect x="1347.72" y="826.55" width="12" height="12" fill="#fff"/>
<rect x="1373.31" y="826.55" width="12" height="12" fill="#fff"/>
<circle cx="1200.19" cy="851.77" r="8.25" fill="#fff"/>
<circle cx="1225.78" cy="822.94" r="8.25" fill="#fff"/>
<circle cx="1251.37" cy="842.16" r="8.25" fill="#fff"/>
<circle cx="1276.96" cy="832.55" r="8.25" fill="#fff"/>
<circle cx="1302.54" cy="832.55" r="8.25" fill="#fff"/>
<circle cx="1328.13" cy="832.55" r="8.25" fill="#fff"/>
<circle cx="1353.72" cy="832.55" r="8.25" fill="#fff"/>
<circle cx="1379.31" cy="832.55" r="8.25" fill="#fff"/>
<path d="M1205.47 845.82L1220.5 828.89M1232.13 827.72L1245.01 837.38M1258.81 839.36L1269.51 835.34M1284.91 832.55L1294.59 832.55M1310.49 832.55L1320.18 832.55M1336.08 832.55L1345.77 832.55M1361.67 832.55L1371.36 832.55" fill="none" stroke="#FA7D6E" stroke-width="2.9"/>
<path d="M1202.73 799.84L1223.24 846.04M1230.91 845.99L1246.24 828.72M1257.13 827.27L1271.2 837.83M1282.67 840.01L1296.83 834.7M1308.24 832.55L1322.43 832.55M1333.83 832.55L1348.02 832.55M1359.42 832.55L1373.61 832.55" fill="none" stroke="#1C921C" stroke-width="2.9"/>
<rect x="1194.19" y="788.12" width="12" height="12" fill="#178F17" fill-opacity="0.75"/>
<rect x="1219.78" y="845.77" width="12" height="12" fill="#178F17" fill-opacity="0.75"/>
<rect x="1245.37" y="816.94" width="12" height="12" fill="#178F17" fill-opacity="0.75"/>
<rect x="1270.96" y="836.16" width="12" height="12" fill="#178F17" fill-opacity="0.75"/>
<rect x="1296.54" y="826.55" width="12" height="12" fill="#178F17" fill-opacity="0.75"/>
<rect x="1322.13" y="826.55" width="12" height="12" fill="#178F17" fill-opacity="0.75"/>
<rect x="1347.72" y="826.55" width="12" height="12" fill="#178F17" fill-opacity="0.75"/>
<rect x="1373.31" y="826.55" width="12" height="12" fill="#178F17" fill-opacity="0.75"/>
<circle cx="1200.19" cy="851.77" r="8.25" fill="#FA7D6E" fill-opacity="0.8"/>
<circle cx="1225.78" cy="822.94" r="8.25" fill="#FA7D6E" fill-opacity="0.8"/>
<circle cx="1251.37" cy="842.16" r="8.25" fill="#FA7D6E" fill-opacity="0.8"/>
<circle cx="1276.96" cy="832.55" r="8.25" fill="#FA7D6E" fill-opacity="0.8"/>
<circle cx="1302.54" cy="832.55" r="8.25" fill="#FA7D6E" fill-opacity="0.8"/>
<circle cx="1328.13" cy="832.55" r="8.25" fill="#FA7D6E" fill-opacity="0.8"/>
<circle cx="1353.72" cy="832.55" r="8.25" fill="#FA7D6E" fill-opacity="0.8"/>
<circle cx="1379.31" cy="832.55" r="8.25" fill="#FA7D6E" fill-opacity="0.8"/>
<g transform="translate(1173.1 768.7) scale(1.02 1.07)" fill="#003BB5" stroke="#003BB5" stroke-width="0.4" stroke-linejoin="round"><text x="0" y="0" font-size="26.5" font-weight="bold">S&#8199;&#8199;</text><path transform="translate(17.68 0) scale(0.01294 -0.01294)" d="M478 0L478 1170L140 959L140 1180L493 1409L759 1409L759 0Z"/><path transform="translate(32.41 0) scale(0.01294 -0.01294)" d="M478 0L478 1170L140 959L140 1180L493 1409L759 1409L759 0Z"/></g>
<g transform="translate(1407.6 832.7) scale(1 1.06)" fill="#1C921C"><text x="0" y="0" font-size="27.6">86&#176;</text></g>
<g transform="translate(1407.6 852.8) scale(1 1.06)" fill="#FA7D6E"><text x="0" y="0" font-size="27.6">86&#176;</text></g>
<path d="M1175.3 1043.9V1034.9M1175.3 928.6V937.6M1226.48 1043.9V1034.9M1226.48 928.6V937.6M1277.66 1043.9V1034.9M1277.66 928.6V937.6M1328.83 1043.9V1034.9M1328.83 928.6V937.6M1380.01 1043.9V1034.9M1380.01 928.6V937.6M1175.3 1043.9H1184.3M1405.6 1043.9H1396.6M1175.3 989H1184.3M1405.6 989H1396.6M1175.3 934.09H1184.3M1405.6 934.09H1396.6" stroke="#262626" stroke-width="3.0" fill="none"/>
<rect x="1175.3" y="928.6" width="230.3" height="115.3" fill="none" stroke="#262626" stroke-width="3.0"/>
<g transform="translate(1164.3 1054.8) scale(1 1.06)" fill="#262626"><text x="-30.7" y="0" font-size="27.6">70</text></g>
<g transform="translate(1164.3 999.9) scale(1 1.06)" fill="#262626"><text x="-30.7" y="0" font-size="27.6">80</text></g>
<g transform="translate(1164.3 944.99) scale(1 1.06)" fill="#262626"><text x="-30.7" y="0" font-size="27.6">90</text></g>
<rect x="1194.19" y="928.09" width="12" height="12" fill="#fff"/>
<rect x="1219.78" y="1010.45" width="12" height="12" fill="#fff"/>
<rect x="1245.37" y="1015.94" width="12" height="12" fill="#fff"/>
<rect x="1270.96" y="1015.94" width="12" height="12" fill="#fff"/>
<rect x="1296.54" y="1015.94" width="12" height="12" fill="#fff"/>
<rect x="1322.13" y="1015.94" width="12" height="12" fill="#fff"/>
<rect x="1347.72" y="1015.94" width="12" height="12" fill="#fff"/>
<rect x="1373.31" y="1015.94" width="12" height="12" fill="#fff"/>
<circle cx="1200.19" cy="1016.45" r="8.25" fill="#fff"/>
<circle cx="1225.78" cy="1021.94" r="8.25" fill="#fff"/>
<circle cx="1251.37" cy="1021.94" r="8.25" fill="#fff"/>
<circle cx="1276.96" cy="1021.94" r="8.25" fill="#fff"/>
<circle cx="1302.54" cy="1021.94" r="8.25" fill="#fff"/>
<circle cx="1328.13" cy="1021.94" r="8.25" fill="#fff"/>
<circle cx="1353.72" cy="1021.94" r="8.25" fill="#fff"/>
<circle cx="1379.31" cy="1021.94" r="8.25" fill="#fff"/>
<path d="M1207.96 1018.12L1218 1020.27M1233.73 1021.94L1243.42 1021.94M1259.32 1021.94L1269.01 1021.94M1284.91 1021.94L1294.59 1021.94M1310.49 1021.94L1320.18 1021.94M1336.08 1021.94L1345.77 1021.94M1361.67 1021.94L1371.36 1021.94" fill="none" stroke="#FA7D6E" stroke-width="2.9"/>
<path d="M1201.96 939.8L1224 1010.73M1231.48 1017.67L1245.66 1020.71M1257.07 1021.94L1271.26 1021.94M1282.66 1021.94L1296.84 1021.94M1308.24 1021.94L1322.43 1021.94M1333.83 1021.94L1348.02 1021.94M1359.42 1021.94L1373.61 1021.94" fill="none" stroke="#1C921C" stroke-width="2.9"/>
<rect x="1194.19" y="928.09" width="12" height="12" fill="#178F17" fill-opacity="0.75"/>
<rect x="1219.78" y="1010.45" width="12" height="12" fill="#178F17" fill-opacity="0.75"/>
<rect x="1245.37" y="1015.94" width="12" height="12" fill="#178F17" fill-opacity="0.75"/>
<rect x="1270.96" y="1015.94" width="12" height="12" fill="#178F17" fill-opacity="0.75"/>
<rect x="1296.54" y="1015.94" width="12" height="12" fill="#178F17" fill-opacity="0.75"/>
<rect x="1322.13" y="1015.94" width="12" height="12" fill="#178F17" fill-opacity="0.75"/>
<rect x="1347.72" y="1015.94" width="12" height="12" fill="#178F17" fill-opacity="0.75"/>
<rect x="1373.31" y="1015.94" width="12" height="12" fill="#178F17" fill-opacity="0.75"/>
<circle cx="1200.19" cy="1016.45" r="8.25" fill="#FA7D6E" fill-opacity="0.8"/>
<circle cx="1225.78" cy="1021.94" r="8.25" fill="#FA7D6E" fill-opacity="0.8"/>
<circle cx="1251.37" cy="1021.94" r="8.25" fill="#FA7D6E" fill-opacity="0.8"/>
<circle cx="1276.96" cy="1021.94" r="8.25" fill="#FA7D6E" fill-opacity="0.8"/>
<circle cx="1302.54" cy="1021.94" r="8.25" fill="#FA7D6E" fill-opacity="0.8"/>
<circle cx="1328.13" cy="1021.94" r="8.25" fill="#FA7D6E" fill-opacity="0.8"/>
<circle cx="1353.72" cy="1021.94" r="8.25" fill="#FA7D6E" fill-opacity="0.8"/>
<circle cx="1379.31" cy="1021.94" r="8.25" fill="#FA7D6E" fill-opacity="0.8"/>
<g transform="translate(1173.1 922.4) scale(1.02 1.07)" fill="#003BB5" stroke="#003BB5" stroke-width="0.4" stroke-linejoin="round"><text x="0" y="0" font-size="26.5" font-weight="bold">S&#8199;2</text><path transform="translate(17.68 0) scale(0.01294 -0.01294)" d="M478 0L478 1170L140 959L140 1180L493 1409L759 1409L759 0Z"/></g>
<g transform="translate(1407.6 1015.5) scale(1 1.06)" fill="#1C921C"><text x="0" y="0" font-size="27.6">74&#176;</text></g>
<g transform="translate(1407.6 1047.7) scale(1 1.06)" fill="#FA7D6E"><text x="0" y="0" font-size="27.6">74&#176;</text></g>
<path d="M1175.3 1197.6V1188.6M1175.3 1082.3V1091.3M1226.48 1197.6V1188.6M1226.48 1082.3V1091.3M1277.66 1197.6V1188.6M1277.66 1082.3V1091.3M1328.83 1197.6V1188.6M1328.83 1082.3V1091.3M1380.01 1197.6V1188.6M1380.01 1082.3V1091.3M1175.3 1186.07H1184.3M1405.6 1186.07H1396.6M1175.3 1139.95H1184.3M1405.6 1139.95H1396.6M1175.3 1093.83H1184.3M1405.6 1093.83H1396.6" stroke="#262626" stroke-width="3.0" fill="none"/>
<rect x="1175.3" y="1082.3" width="230.3" height="115.3" fill="none" stroke="#262626" stroke-width="3.0"/>
<g transform="translate(1164.3 1196.97) scale(1 1.06)" fill="#262626"><text x="-30.7" y="0" font-size="27.6">50</text></g>
<g transform="translate(1164.3 1150.85) scale(1 1.06)" fill="#262626"><text x="-30.7" y="0" font-size="27.6">70</text></g>
<g transform="translate(1164.3 1104.73) scale(1 1.06)" fill="#262626"><text x="-30.7" y="0" font-size="27.6">90</text></g>
<g transform="translate(1175.3 1236.9) scale(1 1.06)" fill="#262626"><text x="-7.67" y="0" font-size="27.6">0</text></g>
<g transform="translate(1226.48 1236.9) scale(1 1.06)" fill="#262626"><text x="-7.67" y="0" font-size="27.6">2</text></g>
<g transform="translate(1277.66 1236.9) scale(1 1.06)" fill="#262626"><text x="-7.67" y="0" font-size="27.6">4</text></g>
<g transform="translate(1328.83 1236.9) scale(1 1.06)" fill="#262626"><text x="-7.67" y="0" font-size="27.6">6</text></g>
<g transform="translate(1380.01 1236.9) scale(1 1.06)" fill="#262626"><text x="-7.67" y="0" font-size="27.6">8</text></g>
<rect x="1194.19" y="1087.83" width="12" height="12" fill="#fff"/>
<rect x="1219.78" y="1170.85" width="12" height="12" fill="#fff"/>
<rect x="1245.37" y="1180.07" width="12" height="12" fill="#fff"/>
<rect x="1270.96" y="1180.07" width="12" height="12" fill="#fff"/>
<rect x="1296.54" y="1180.07" width="12" height="12" fill="#fff"/>
<rect x="1322.13" y="1180.07" width="12" height="12" fill="#fff"/>
<rect x="1347.72" y="1180.07" width="12" height="12" fill="#fff"/>
<rect x="1373.31" y="1180.07" width="12" height="12" fill="#fff"/>
<circle cx="1200.19" cy="1176.85" r="8.25" fill="#fff"/>
<circle cx="1225.78" cy="1186.07" r="8.25" fill="#fff"/>
<circle cx="1251.37" cy="1186.07" r="8.25" fill="#fff"/>
<circle cx="1276.96" cy="1186.07" r="8.25" fill="#fff"/>
<circle cx="1302.54" cy="1186.07" r="8.25" fill="#fff"/>
<circle cx="1328.13" cy="1186.07" r="8.25" fill="#fff"/>
<circle cx="1353.72" cy="1186.07" r="8.25" fill="#fff"/>
<circle cx="1379.31" cy="1186.07" r="8.25" fill="#fff"/>
<path d="M1207.67 1179.54L1218.3 1183.37M1233.73 1186.07L1243.42 1186.07M1259.32 1186.07L1269.01 1186.07M1284.91 1186.07L1294.59 1186.07M1310.49 1186.07L1320.18 1186.07M1336.08 1186.07L1345.77 1186.07M1361.67 1186.07L1371.36 1186.07" fill="none" stroke="#FA7D6E" stroke-width="2.9"/>
<path d="M1201.95 1099.54L1224.02 1171.13M1231.5 1178.91L1245.65 1184.01M1257.07 1186.07L1271.26 1186.07M1282.66 1186.07L1296.84 1186.07M1308.24 1186.07L1322.43 1186.07M1333.83 1186.07L1348.02 1186.07M1359.42 1186.07L1373.61 1186.07" fill="none" stroke="#1C921C" stroke-width="2.9"/>
<rect x="1194.19" y="1087.83" width="12" height="12" fill="#178F17" fill-opacity="0.75"/>
<rect x="1219.78" y="1170.85" width="12" height="12" fill="#178F17" fill-opacity="0.75"/>
<rect x="1245.37" y="1180.07" width="12" height="12" fill="#178F17" fill-opacity="0.75"/>
<rect x="1270.96" y="1180.07" width="12" height="12" fill="#178F17" fill-opacity="0.75"/>
<rect x="1296.54" y="1180.07" width="12" height="12" fill="#178F17" fill-opacity="0.75"/>
<rect x="1322.13" y="1180.07" width="12" height="12" fill="#178F17" fill-opacity="0.75"/>
<rect x="1347.72" y="1180.07" width="12" height="12" fill="#178F17" fill-opacity="0.75"/>
<rect x="1373.31" y="1180.07" width="12" height="12" fill="#178F17" fill-opacity="0.75"/>
<circle cx="1200.19" cy="1176.85" r="8.25" fill="#FA7D6E" fill-opacity="0.8"/>
<circle cx="1225.78" cy="1186.07" r="8.25" fill="#FA7D6E" fill-opacity="0.8"/>
<circle cx="1251.37" cy="1186.07" r="8.25" fill="#FA7D6E" fill-opacity="0.8"/>
<circle cx="1276.96" cy="1186.07" r="8.25" fill="#FA7D6E" fill-opacity="0.8"/>
<circle cx="1302.54" cy="1186.07" r="8.25" fill="#FA7D6E" fill-opacity="0.8"/>
<circle cx="1328.13" cy="1186.07" r="8.25" fill="#FA7D6E" fill-opacity="0.8"/>
<circle cx="1353.72" cy="1186.07" r="8.25" fill="#FA7D6E" fill-opacity="0.8"/>
<circle cx="1379.31" cy="1186.07" r="8.25" fill="#FA7D6E" fill-opacity="0.8"/>
<g transform="translate(1173.1 1076.1) scale(1.02 1.07)" fill="#003BB5" stroke="#003BB5" stroke-width="0.4" stroke-linejoin="round"><text x="0" y="0" font-size="26.5" font-weight="bold">S&#8199;3</text><path transform="translate(17.68 0) scale(0.01294 -0.01294)" d="M478 0L478 1170L140 959L140 1180L493 1409L759 1409L759 0Z"/></g>
<g transform="translate(1407.6 1185) scale(1 1.06)" fill="#1C921C"><text x="0" y="0" font-size="27.6">50&#176;</text></g>
<g transform="translate(1407.6 1204.3) scale(1 1.06)" fill="#FA7D6E"><text x="0" y="0" font-size="27.6">50&#176;</text></g>
<text transform="translate(356.5 543) scale(1 1.06)" font-size="27.6" fill="#FA7D6E">&#176;</text>
<text x="716.75" y="851.05" font-size="23" fill="#FA7D6E">&#176;</text>
<text x="716.75" y="840.15" font-size="23" fill="#1C921C">&#176;</text>
<text x="207.2" y="1422.5" text-anchor="middle" font-size="32.5" fill="#000">Number of iterations</text>
<text x="553.65" y="1275.6" text-anchor="middle" font-size="32.5" fill="#000">Number of iterations</text>
<text x="945.05" y="1422.5" text-anchor="middle" font-size="32.5" fill="#000">Number of iterations</text>
<text x="1287" y="1275.6" text-anchor="middle" font-size="32.5" fill="#000">Number of iterations</text>
<text transform="translate(33.7 1180.5) rotate(-90)" text-anchor="start" font-size="32.5" fill="#000">Preset and inverted strike angles in iterations (&#176;)</text>
<text transform="translate(766.8 1163.2) rotate(-90)" text-anchor="start" font-size="32.5" fill="#000">Preset and inverted dip angles in iterations (&#176;)</text>
<path d="M390.6 1322.7H401.7M417.1 1322.7H427.5" stroke="#FA7D6E" stroke-width="2.9"/>
<circle cx="409.4" cy="1322.7" r="8" fill="#FA7D6E" fill-opacity="0.8"/>
<text x="441.2" y="1333.1" text-anchor="start" font-size="27" fill="#000">Inverted strike angle</text>
<path d="M391.9 1373.75H404.3M415.7 1373.75H426.3" stroke="#1C921C" stroke-width="2.9"/>
<rect x="404" y="1367.75" width="12" height="12" fill="#178F17" fill-opacity="0.75"/>
<text x="443.5" y="1379.4" text-anchor="start" font-size="27" fill="#000">Preset strike angle</text>
<path d="M1133.75 1325.3H1144.55M1159.95 1325.3H1170" stroke="#FA7D6E" stroke-width="2.9"/>
<circle cx="1152.25" cy="1325.3" r="8" fill="#FA7D6E" fill-opacity="0.8"/>
<text x="1188.1" y="1333.1" text-anchor="start" font-size="27" fill="#000">Inverted dip angle</text>
<path d="M1134.1 1371.4H1146.55M1157.95 1371.4H1168.5" stroke="#1C921C" stroke-width="2.9"/>
<rect x="1146.25" y="1365.4" width="12" height="12" fill="#178F17" fill-opacity="0.75"/>
<text x="1187.9" y="1379.4" text-anchor="start" font-size="27" fill="#000">Preset dip angle</text>
</svg>
</body></html>
